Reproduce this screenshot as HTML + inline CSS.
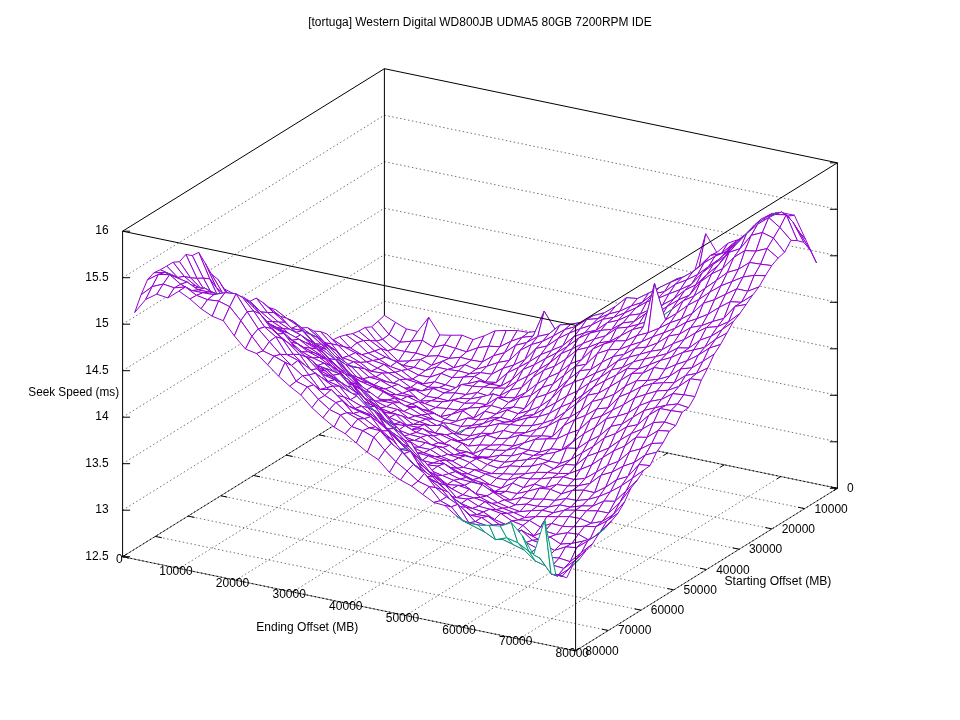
<!DOCTYPE html>
<html><head><meta charset="utf-8"><title>Seek Speed</title>
<style>
html,body{margin:0;padding:0;background:#fff;width:960px;height:720px;overflow:hidden}
svg{display:block}
text{font-family:"Liberation Sans",sans-serif;font-size:12px;fill:#000}
.g{stroke:#000;stroke-width:0.55;stroke-dasharray:1.5 2.5;fill:none}
.bb{stroke:#000;stroke-width:1;stroke-opacity:0.5;fill:none}
.bd{stroke:#000;stroke-width:1;stroke-dasharray:1.5 2.5;fill:none}
.b{stroke:#000;stroke-width:1;fill:none}
.p{fill:#fff;stroke:#9400d3;stroke-width:1;stroke-linejoin:round}
.t{fill:#fff;stroke:#009e73;stroke-width:1;stroke-linejoin:round}
</style></head><body>
<svg width="960" height="720" viewBox="0 0 960 720">
<rect width="960" height="720" fill="#fff"/>
<line x1="122.6" y1="510.2" x2="384.4" y2="347.7" class="g"/>
<line x1="384.4" y1="347.7" x2="837.4" y2="441.8" class="g"/>
<line x1="122.6" y1="463.7" x2="384.4" y2="301.2" class="g"/>
<line x1="384.4" y1="301.2" x2="837.4" y2="395.3" class="g"/>
<line x1="122.6" y1="417.2" x2="384.4" y2="254.7" class="g"/>
<line x1="384.4" y1="254.7" x2="837.4" y2="348.8" class="g"/>
<line x1="122.6" y1="370.7" x2="384.4" y2="208.2" class="g"/>
<line x1="384.4" y1="208.2" x2="837.4" y2="302.3" class="g"/>
<line x1="122.6" y1="324.2" x2="384.4" y2="161.7" class="g"/>
<line x1="384.4" y1="161.7" x2="837.4" y2="255.8" class="g"/>
<line x1="122.6" y1="277.7" x2="384.4" y2="115.2" class="g"/>
<line x1="384.4" y1="115.2" x2="837.4" y2="209.3" class="g"/>
<line x1="441.02" y1="405.96" x2="179.22" y2="568.46" class="g"/>
<line x1="351.67" y1="414.51" x2="804.67" y2="508.61" class="g"/>
<line x1="497.65" y1="417.72" x2="235.85" y2="580.22" class="g"/>
<line x1="318.95" y1="434.82" x2="771.95" y2="528.92" class="g"/>
<line x1="554.27" y1="429.49" x2="292.47" y2="591.99" class="g"/>
<line x1="286.22" y1="455.14" x2="739.22" y2="549.24" class="g"/>
<line x1="610.9" y1="441.25" x2="349.1" y2="603.75" class="g"/>
<line x1="253.5" y1="475.45" x2="706.5" y2="569.55" class="g"/>
<line x1="667.52" y1="453.01" x2="405.72" y2="615.51" class="g"/>
<line x1="220.77" y1="495.76" x2="673.77" y2="589.86" class="g"/>
<line x1="724.15" y1="464.77" x2="462.35" y2="627.27" class="g"/>
<line x1="188.05" y1="516.08" x2="641.05" y2="610.17" class="g"/>
<line x1="780.77" y1="476.54" x2="518.97" y2="639.04" class="g"/>
<line x1="155.32" y1="536.39" x2="608.32" y2="630.49" class="g"/>
<line x1="122.6" y1="556.7" x2="384.4" y2="394.2" class="bb"/>
<line x1="122.6" y1="556.7" x2="384.4" y2="394.2" class="bd"/>
<line x1="384.4" y1="394.2" x2="837.4" y2="488.3" class="bb"/>
<line x1="384.4" y1="394.2" x2="837.4" y2="488.3" class="bd"/>
<line x1="384.4" y1="394.2" x2="384.4" y2="68.7" class="b"/>
<line x1="384.4" y1="68.7" x2="122.6" y2="231.2" class="b"/>
<line x1="384.4" y1="68.7" x2="837.4" y2="162.8" class="b"/>
<line x1="384.4" y1="394.2" x2="380.64" y2="396.54" class="b"/>
<line x1="384.4" y1="394.2" x2="390.91" y2="395.55" class="b"/>
<line x1="441.02" y1="405.96" x2="437.26" y2="408.3" class="b"/>
<line x1="351.67" y1="414.51" x2="358.19" y2="415.87" class="b"/>
<line x1="497.65" y1="417.72" x2="493.89" y2="420.06" class="b"/>
<line x1="318.95" y1="434.82" x2="325.46" y2="436.18" class="b"/>
<line x1="554.27" y1="429.49" x2="550.51" y2="431.82" class="b"/>
<line x1="286.22" y1="455.14" x2="292.74" y2="456.49" class="b"/>
<line x1="610.9" y1="441.25" x2="607.14" y2="443.59" class="b"/>
<line x1="253.5" y1="475.45" x2="260.01" y2="476.8" class="b"/>
<line x1="667.52" y1="453.01" x2="663.76" y2="455.35" class="b"/>
<line x1="220.77" y1="495.76" x2="227.29" y2="497.12" class="b"/>
<line x1="724.15" y1="464.77" x2="720.39" y2="467.11" class="b"/>
<line x1="188.05" y1="516.08" x2="194.56" y2="517.43" class="b"/>
<line x1="780.77" y1="476.54" x2="777.01" y2="478.87" class="b"/>
<line x1="155.32" y1="536.39" x2="161.84" y2="537.74" class="b"/>
<line x1="837.4" y1="488.3" x2="833.64" y2="490.64" class="b"/>
<line x1="122.6" y1="556.7" x2="129.11" y2="558.05" class="b"/>
<line x1="837.4" y1="488.3" x2="837.4" y2="162.8" class="b"/>
<line x1="837.4" y1="488.3" x2="829.9" y2="488.3" class="b"/>
<line x1="837.4" y1="441.8" x2="829.9" y2="441.8" class="b"/>
<line x1="837.4" y1="395.3" x2="829.9" y2="395.3" class="b"/>
<line x1="837.4" y1="348.8" x2="829.9" y2="348.8" class="b"/>
<line x1="837.4" y1="302.3" x2="829.9" y2="302.3" class="b"/>
<line x1="837.4" y1="255.8" x2="829.9" y2="255.8" class="b"/>
<line x1="837.4" y1="209.3" x2="829.9" y2="209.3" class="b"/>
<line x1="837.4" y1="162.8" x2="829.9" y2="162.8" class="b"/>
<polygon points="384.4,315.39 395.48,322.39 389.08,334.46 378,321.29" class="p"/>
<polygon points="395.48,322.39 406.56,328.95 400.16,342.25 389.08,334.46" class="p"/>
<polygon points="378,321.29 389.08,334.46 382.67,339.44 371.59,326.87" class="p"/>
<polygon points="406.56,328.95 417.64,331.46 411.24,341.29 400.16,342.25" class="p"/>
<polygon points="389.08,334.46 400.16,342.25 393.75,349.15 382.67,339.44" class="p"/>
<polygon points="417.64,331.46 428.72,317.37 422.32,340.37 411.24,341.29" class="p"/>
<polygon points="371.59,326.87 382.67,339.44 376.27,341.07 365.19,327.45" class="p"/>
<polygon points="400.16,342.25 411.24,341.29 404.83,351.52 393.75,349.15" class="p"/>
<polygon points="428.72,317.37 439.8,334.95 433.4,347.3 422.32,340.37" class="p"/>
<polygon points="382.67,339.44 393.75,349.15 387.35,350.77 376.27,341.07" class="p"/>
<polygon points="411.24,341.29 422.32,340.37 415.92,353.14 404.83,351.52" class="p"/>
<polygon points="439.8,334.95 450.89,335.26 444.48,344.9 433.4,347.3" class="p"/>
<polygon points="365.19,327.45 376.27,341.07 369.87,340.43 358.78,331.17" class="p"/>
<polygon points="393.75,349.15 404.83,351.52 398.43,361.32 387.35,350.77" class="p"/>
<polygon points="422.32,340.37 433.4,347.3 427,356.32 415.92,353.14" class="p"/>
<polygon points="450.89,335.26 461.97,335.15 455.56,348.35 444.48,344.9" class="p"/>
<polygon points="376.27,341.07 387.35,350.77 380.95,348.67 369.87,340.43" class="p"/>
<polygon points="404.83,351.52 415.92,353.14 409.51,361.03 398.43,361.32" class="p"/>
<polygon points="433.4,347.3 444.48,344.9 438.08,355.72 427,356.32" class="p"/>
<polygon points="358.78,331.17 369.87,340.43 363.46,340.64 352.38,333.65" class="p"/>
<polygon points="461.97,335.15 473.05,339.59 466.64,351.84 455.56,348.35" class="p"/>
<polygon points="387.35,350.77 398.43,361.32 392.03,360.89 380.95,348.67" class="p"/>
<polygon points="415.92,353.14 427,356.32 420.59,359.57 409.51,361.03" class="p"/>
<polygon points="444.48,344.9 455.56,348.35 449.16,358.41 438.08,355.72" class="p"/>
<polygon points="369.87,340.43 380.95,348.67 374.54,351.13 363.46,340.64" class="p"/>
<polygon points="473.05,339.59 484.13,335.9 477.72,347.77 466.64,351.84" class="p"/>
<polygon points="398.43,361.32 409.51,361.03 403.11,365.47 392.03,360.89" class="p"/>
<polygon points="427,356.32 438.08,355.72 431.67,365.44 420.59,359.57" class="p"/>
<polygon points="352.38,333.65 363.46,340.64 357.06,342.79 345.98,334.93" class="p"/>
<polygon points="455.56,348.35 466.64,351.84 460.24,357.31 449.16,358.41" class="p"/>
<polygon points="380.95,348.67 392.03,360.89 385.62,357.16 374.54,351.13" class="p"/>
<polygon points="484.13,335.9 495.21,330.76 488.81,346.2 477.72,347.77" class="p"/>
<polygon points="409.51,361.03 420.59,359.57 414.19,367.42 403.11,365.47" class="p"/>
<polygon points="438.08,355.72 449.16,358.41 442.75,361.19 431.67,365.44" class="p"/>
<polygon points="363.46,340.64 374.54,351.13 368.14,353.09 357.06,342.79" class="p"/>
<polygon points="466.64,351.84 477.72,347.77 471.32,360.15 460.24,357.31" class="p"/>
<polygon points="392.03,360.89 403.11,365.47 396.7,362.04 385.62,357.16" class="t"/>
<polygon points="495.21,330.76 506.29,330.48 499.89,346.75 488.81,346.2" class="p"/>
<polygon points="420.59,359.57 431.67,365.44 425.27,370.58 414.19,367.42" class="p"/>
<polygon points="345.98,334.93 357.06,342.79 350.65,348.1 339.57,336.66" class="p"/>
<polygon points="449.16,358.41 460.24,357.31 453.84,367.72 442.75,361.19" class="p"/>
<polygon points="374.54,351.13 385.62,357.16 379.22,359.33 368.14,353.09" class="p"/>
<polygon points="477.72,347.77 488.81,346.2 482.4,361.91 471.32,360.15" class="p"/>
<polygon points="403.11,365.47 414.19,367.42 407.78,369.5 396.7,362.04" class="p"/>
<polygon points="506.29,330.48 517.37,330.57 510.97,341.27 499.89,346.75" class="p"/>
<polygon points="431.67,365.44 442.75,361.19 436.35,367 425.27,370.58" class="p"/>
<polygon points="357.06,342.79 368.14,353.09 361.73,354.76 350.65,348.1" class="p"/>
<polygon points="460.24,357.31 471.32,360.15 464.92,364.78 453.84,367.72" class="p"/>
<polygon points="385.62,357.16 396.7,362.04 390.3,366.61 379.22,359.33" class="p"/>
<polygon points="488.81,346.2 499.89,346.75 493.48,355.76 482.4,361.91" class="p"/>
<polygon points="414.19,367.42 425.27,370.58 418.87,375.28 407.78,369.5" class="p"/>
<polygon points="517.37,330.57 528.45,332.45 522.05,337.38 510.97,341.27" class="p"/>
<polygon points="339.57,336.66 350.65,348.1 344.25,346.94 333.17,339.75" class="p"/>
<polygon points="442.75,361.19 453.84,367.72 447.43,369.52 436.35,367" class="p"/>
<polygon points="368.14,353.09 379.22,359.33 372.82,360.55 361.73,354.76" class="p"/>
<polygon points="471.32,360.15 482.4,361.91 476,369.34 464.92,364.78" class="p"/>
<polygon points="396.7,362.04 407.78,369.5 401.38,370.49 390.3,366.61" class="p"/>
<polygon points="499.89,346.75 510.97,341.27 504.56,352.76 493.48,355.76" class="p"/>
<polygon points="425.27,370.58 436.35,367 429.95,377.18 418.87,375.28" class="p"/>
<polygon points="528.45,332.45 539.53,330.72 533.13,336.18 522.05,337.38" class="p"/>
<polygon points="350.65,348.1 361.73,354.76 355.33,352.75 344.25,346.94" class="p"/>
<polygon points="453.84,367.72 464.92,364.78 458.51,370.88 447.43,369.52" class="p"/>
<polygon points="379.22,359.33 390.3,366.61 383.9,364.39 372.82,360.55" class="p"/>
<polygon points="482.4,361.91 493.48,355.76 487.08,366.27 476,369.34" class="p"/>
<polygon points="407.78,369.5 418.87,375.28 412.46,379.13 401.38,370.49" class="p"/>
<polygon points="510.97,341.27 522.05,337.38 515.64,345.3 504.56,352.76" class="p"/>
<polygon points="333.17,339.75 344.25,346.94 337.85,345.22 326.76,333.93" class="p"/>
<polygon points="436.35,367 447.43,369.52 441.03,373.4 429.95,377.18" class="p"/>
<polygon points="539.53,330.72 550.61,329.48 544.21,311.22 533.13,336.18" class="t"/>
<polygon points="361.73,354.76 372.82,360.55 366.41,361.96 355.33,352.75" class="p"/>
<polygon points="464.92,364.78 476,369.34 469.59,373.83 458.51,370.88" class="p"/>
<polygon points="390.3,366.61 401.38,370.49 394.98,372.39 383.9,364.39" class="p"/>
<polygon points="493.48,355.76 504.56,352.76 498.16,362.46 487.08,366.27" class="p"/>
<polygon points="418.87,375.28 429.95,377.18 423.54,383.91 412.46,379.13" class="p"/>
<polygon points="522.05,337.38 533.13,336.18 526.73,342.55 515.64,345.3" class="p"/>
<polygon points="344.25,346.94 355.33,352.75 348.93,355.81 337.85,345.22" class="p"/>
<polygon points="447.43,369.52 458.51,370.88 452.11,377.75 441.03,373.4" class="p"/>
<polygon points="550.61,329.48 561.69,334.95 555.29,329.59 544.21,311.22" class="t"/>
<polygon points="372.82,360.55 383.9,364.39 377.49,368.29 366.41,361.96" class="p"/>
<polygon points="476,369.34 487.08,366.27 480.67,372.62 469.59,373.83" class="p"/>
<polygon points="401.38,370.49 412.46,379.13 406.06,379.31 394.98,372.39" class="p"/>
<polygon points="504.56,352.76 515.64,345.3 509.24,360.54 498.16,362.46" class="p"/>
<polygon points="326.76,333.93 337.85,345.22 331.44,343.88 320.36,331.47" class="p"/>
<polygon points="429.95,377.18 441.03,373.4 434.62,381.84 423.54,383.91" class="p"/>
<polygon points="533.13,336.18 544.21,311.22 537.81,336.47 526.73,342.55" class="p"/>
<polygon points="355.33,352.75 366.41,361.96 360.01,362.44 348.93,355.81" class="p"/>
<polygon points="458.51,370.88 469.59,373.83 463.19,377.13 452.11,377.75" class="p"/>
<polygon points="561.69,334.95 572.78,336.98 566.37,326.12 555.29,329.59" class="t"/>
<polygon points="383.9,364.39 394.98,372.39 388.57,373.03 377.49,368.29" class="p"/>
<polygon points="487.08,366.27 498.16,362.46 491.76,374.27 480.67,372.62" class="p"/>
<polygon points="412.46,379.13 423.54,383.91 417.14,382.76 406.06,379.31" class="p"/>
<polygon points="515.64,345.3 526.73,342.55 520.32,350.35 509.24,360.54" class="p"/>
<polygon points="337.85,345.22 348.93,355.81 342.52,357.75 331.44,343.88" class="p"/>
<polygon points="441.03,373.4 452.11,377.75 445.7,384.94 434.62,381.84" class="p"/>
<polygon points="544.21,311.22 555.29,329.59 548.89,334 537.81,336.47" class="p"/>
<polygon points="366.41,361.96 377.49,368.29 371.09,371.32 360.01,362.44" class="p"/>
<polygon points="469.59,373.83 480.67,372.62 474.27,376.44 463.19,377.13" class="p"/>
<polygon points="572.78,336.98 583.86,343.35 577.45,324.59 566.37,326.12" class="t"/>
<polygon points="394.98,372.39 406.06,379.31 399.65,379.52 388.57,373.03" class="p"/>
<polygon points="498.16,362.46 509.24,360.54 502.84,368.38 491.76,374.27" class="p"/>
<polygon points="320.36,331.47 331.44,343.88 325.04,342.89 313.96,331.1" class="p"/>
<polygon points="423.54,383.91 434.62,381.84 428.22,387.21 417.14,382.76" class="p"/>
<polygon points="526.73,342.55 537.81,336.47 531.4,344.58 520.32,350.35" class="p"/>
<polygon points="348.93,355.81 360.01,362.44 353.6,361.85 342.52,357.75" class="p"/>
<polygon points="452.11,377.75 463.19,377.13 456.79,387.99 445.7,384.94" class="p"/>
<polygon points="555.29,329.59 566.37,326.12 559.97,324.99 548.89,334" class="t"/>
<polygon points="377.49,368.29 388.57,373.03 382.17,373.08 371.09,371.32" class="p"/>
<polygon points="480.67,372.62 491.76,374.27 485.35,381.96 474.27,376.44" class="p"/>
<polygon points="583.86,343.35 594.94,345.89 588.53,328.42 577.45,324.59" class="t"/>
<polygon points="406.06,379.31 417.14,382.76 410.73,387.51 399.65,379.52" class="p"/>
<polygon points="509.24,360.54 520.32,350.35 513.92,365.01 502.84,368.38" class="p"/>
<polygon points="331.44,343.88 342.52,357.75 336.12,350.78 325.04,342.89" class="p"/>
<polygon points="434.62,381.84 445.7,384.94 439.3,387.47 428.22,387.21" class="p"/>
<polygon points="537.81,336.47 548.89,334 542.48,341.42 531.4,344.58" class="p"/>
<polygon points="360.01,362.44 371.09,371.32 364.68,368.86 353.6,361.85" class="p"/>
<polygon points="463.19,377.13 474.27,376.44 467.87,383.7 456.79,387.99" class="p"/>
<polygon points="566.37,326.12 577.45,324.59 571.05,324.15 559.97,324.99" class="t"/>
<polygon points="388.57,373.03 399.65,379.52 393.25,383.36 382.17,373.08" class="p"/>
<polygon points="491.76,374.27 502.84,368.38 496.43,382.49 485.35,381.96" class="p"/>
<polygon points="594.94,345.89 606.02,345 599.61,324.23 588.53,328.42" class="t"/>
<polygon points="313.96,331.1 325.04,342.89 318.63,337.59 307.55,327.68" class="p"/>
<polygon points="417.14,382.76 428.22,387.21 421.82,390.94 410.73,387.51" class="p"/>
<polygon points="520.32,350.35 531.4,344.58 525,359.57 513.92,365.01" class="p"/>
<polygon points="342.52,357.75 353.6,361.85 347.2,364.88 336.12,350.78" class="p"/>
<polygon points="445.7,384.94 456.79,387.99 450.38,390.6 439.3,387.47" class="p"/>
<polygon points="548.89,334 559.97,324.99 553.56,335.83 542.48,341.42" class="p"/>
<polygon points="371.09,371.32 382.17,373.08 375.77,376.98 364.68,368.86" class="p"/>
<polygon points="474.27,376.44 485.35,381.96 478.95,381 467.87,383.7" class="p"/>
<polygon points="577.45,324.59 588.53,328.42 582.13,322.17 571.05,324.15" class="t"/>
<polygon points="399.65,379.52 410.73,387.51 404.33,388.34 393.25,383.36" class="p"/>
<polygon points="502.84,368.38 513.92,365.01 507.51,372.78 496.43,382.49" class="p"/>
<polygon points="606.02,345 617.1,334.49 610.7,319.99 599.61,324.23" class="t"/>
<polygon points="325.04,342.89 336.12,350.78 329.71,347.4 318.63,337.59" class="p"/>
<polygon points="428.22,387.21 439.3,387.47 432.9,388.47 421.82,390.94" class="p"/>
<polygon points="531.4,344.58 542.48,341.42 536.08,348.51 525,359.57" class="p"/>
<polygon points="353.6,361.85 364.68,368.86 358.28,367.71 347.2,364.88" class="p"/>
<polygon points="456.79,387.99 467.87,383.7 461.46,384.51 450.38,390.6" class="t"/>
<polygon points="559.97,324.99 571.05,324.15 564.64,329.65 553.56,335.83" class="p"/>
<polygon points="382.17,373.08 393.25,383.36 386.85,381.81 375.77,376.98" class="p"/>
<polygon points="485.35,381.96 496.43,382.49 490.03,384.17 478.95,381" class="p"/>
<polygon points="588.53,328.42 599.61,324.23 593.21,315.68 582.13,322.17" class="t"/>
<polygon points="307.55,327.68 318.63,337.59 312.23,335.52 301.15,327.84" class="p"/>
<polygon points="410.73,387.51 421.82,390.94 415.41,390.11 404.33,388.34" class="p"/>
<polygon points="513.92,365.01 525,359.57 518.59,367.44 507.51,372.78" class="p"/>
<polygon points="617.1,334.49 628.18,328.89 621.78,312.92 610.7,319.99" class="t"/>
<polygon points="336.12,350.78 347.2,364.88 340.8,359.01 329.71,347.4" class="p"/>
<polygon points="439.3,387.47 450.38,390.6 443.98,393.01 432.9,388.47" class="p"/>
<polygon points="542.48,341.42 553.56,335.83 547.16,345.95 536.08,348.51" class="p"/>
<polygon points="364.68,368.86 375.77,376.98 369.36,377.28 358.28,367.71" class="p"/>
<polygon points="467.87,383.7 478.95,381 472.54,386.27 461.46,384.51" class="p"/>
<polygon points="571.05,324.15 582.13,322.17 575.73,326.53 564.64,329.65" class="p"/>
<polygon points="393.25,383.36 404.33,388.34 397.93,384.36 386.85,381.81" class="t"/>
<polygon points="496.43,382.49 507.51,372.78 501.11,385.96 490.03,384.17" class="p"/>
<polygon points="599.61,324.23 610.7,319.99 604.29,312.86 593.21,315.68" class="t"/>
<polygon points="318.63,337.59 329.71,347.4 323.31,343.14 312.23,335.52" class="p"/>
<polygon points="421.82,390.94 432.9,388.47 426.49,396.37 415.41,390.11" class="p"/>
<polygon points="525,359.57 536.08,348.51 529.68,361.52 518.59,367.44" class="p"/>
<polygon points="628.18,328.89 639.26,318.51 632.86,309.4 621.78,312.92" class="t"/>
<polygon points="347.2,364.88 358.28,367.71 351.88,366.96 340.8,359.01" class="t"/>
<polygon points="450.38,390.6 461.46,384.51 455.06,392.94 443.98,393.01" class="p"/>
<polygon points="553.56,335.83 564.64,329.65 558.24,338.49 547.16,345.95" class="p"/>
<polygon points="375.77,376.98 386.85,381.81 380.44,380.35 369.36,377.28" class="p"/>
<polygon points="478.95,381 490.03,384.17 483.62,387 472.54,386.27" class="p"/>
<polygon points="582.13,322.17 593.21,315.68 586.81,319.46 575.73,326.53" class="p"/>
<polygon points="301.15,327.84 312.23,335.52 305.83,331.56 294.74,326.5" class="p"/>
<polygon points="404.33,388.34 415.41,390.11 409.01,390.83 397.93,384.36" class="p"/>
<polygon points="507.51,372.78 518.59,367.44 512.19,379.72 501.11,385.96" class="p"/>
<polygon points="610.7,319.99 621.78,312.92 615.37,306.47 604.29,312.86" class="t"/>
<polygon points="329.71,347.4 340.8,359.01 334.39,356.23 323.31,343.14" class="p"/>
<polygon points="432.9,388.47 443.98,393.01 437.57,398.13 426.49,396.37" class="p"/>
<polygon points="536.08,348.51 547.16,345.95 540.76,354.67 529.68,361.52" class="p"/>
<polygon points="639.26,318.51 650.34,310.92 643.94,302.31 632.86,309.4" class="t"/>
<polygon points="358.28,367.71 369.36,377.28 362.96,378.87 351.88,366.96" class="p"/>
<polygon points="461.46,384.51 472.54,386.27 466.14,394.59 455.06,392.94" class="p"/>
<polygon points="564.64,329.65 575.73,326.53 569.32,333.11 558.24,338.49" class="p"/>
<polygon points="386.85,381.81 397.93,384.36 391.52,386.73 380.44,380.35" class="p"/>
<polygon points="490.03,384.17 501.11,385.96 494.71,388.1 483.62,387" class="p"/>
<polygon points="593.21,315.68 604.29,312.86 597.89,318.71 586.81,319.46" class="p"/>
<polygon points="312.23,335.52 323.31,343.14 316.91,337.31 305.83,331.56" class="t"/>
<polygon points="415.41,390.11 426.49,396.37 420.09,401.06 409.01,390.83" class="p"/>
<polygon points="518.59,367.44 529.68,361.52 523.27,369.41 512.19,379.72" class="p"/>
<polygon points="621.78,312.92 632.86,309.4 626.45,297.71 615.37,306.47" class="t"/>
<polygon points="340.8,359.01 351.88,366.96 345.47,364.43 334.39,356.23" class="p"/>
<polygon points="443.98,393.01 455.06,392.94 448.65,400.93 437.57,398.13" class="p"/>
<polygon points="547.16,345.95 558.24,338.49 551.84,350.35 540.76,354.67" class="p"/>
<polygon points="650.34,310.92 661.42,302.01 655.02,294.69 643.94,302.31" class="t"/>
<polygon points="369.36,377.28 380.44,380.35 374.04,384.95 362.96,378.87" class="p"/>
<polygon points="472.54,386.27 483.62,387 477.22,392.56 466.14,394.59" class="p"/>
<polygon points="575.73,326.53 586.81,319.46 580.4,328.71 569.32,333.11" class="p"/>
<polygon points="294.74,326.5 305.83,331.56 299.42,326.07 288.34,324.55" class="t"/>
<polygon points="397.93,384.36 409.01,390.83 402.6,393.37 391.52,386.73" class="p"/>
<polygon points="501.11,385.96 512.19,379.72 505.79,388.21 494.71,388.1" class="p"/>
<polygon points="604.29,312.86 615.37,306.47 608.97,313.99 597.89,318.71" class="p"/>
<polygon points="323.31,343.14 334.39,356.23 327.99,348.68 316.91,337.31" class="p"/>
<polygon points="426.49,396.37 437.57,398.13 431.17,400.77 420.09,401.06" class="p"/>
<polygon points="529.68,361.52 540.76,354.67 534.35,364.77 523.27,369.41" class="p"/>
<polygon points="632.86,309.4 643.94,302.31 637.53,298.55 626.45,297.71" class="t"/>
<polygon points="351.88,366.96 362.96,378.87 356.55,377 345.47,364.43" class="p"/>
<polygon points="455.06,392.94 466.14,394.59 459.74,398.34 448.65,400.93" class="p"/>
<polygon points="558.24,338.49 569.32,333.11 562.92,345.58 551.84,350.35" class="p"/>
<polygon points="661.42,302.01 672.5,296.36 666.1,286.02 655.02,294.69" class="t"/>
<polygon points="380.44,380.35 391.52,386.73 385.12,389.06 374.04,384.95" class="p"/>
<polygon points="483.62,387 494.71,388.1 488.3,395.98 477.22,392.56" class="p"/>
<polygon points="586.81,319.46 597.89,318.71 591.48,325.16 580.4,328.71" class="p"/>
<polygon points="305.83,331.56 316.91,337.31 310.5,334.52 299.42,326.07" class="t"/>
<polygon points="409.01,390.83 420.09,401.06 413.68,396.59 402.6,393.37" class="p"/>
<polygon points="512.19,379.72 523.27,369.41 516.87,381.57 505.79,388.21" class="p"/>
<polygon points="615.37,306.47 626.45,297.71 620.05,311.09 608.97,313.99" class="p"/>
<polygon points="334.39,356.23 345.47,364.43 339.07,360.22 327.99,348.68" class="t"/>
<polygon points="437.57,398.13 448.65,400.93 442.25,401.95 431.17,400.77" class="p"/>
<polygon points="540.76,354.67 551.84,350.35 545.43,358.67 534.35,364.77" class="p"/>
<polygon points="643.94,302.31 655.02,294.69 648.62,293.23 637.53,298.55" class="t"/>
<polygon points="362.96,378.87 374.04,384.95 367.63,382.58 356.55,377" class="p"/>
<polygon points="466.14,394.59 477.22,392.56 470.82,398.86 459.74,398.34" class="p"/>
<polygon points="569.32,333.11 580.4,328.71 574,336.64 562.92,345.58" class="p"/>
<polygon points="288.34,324.55 299.42,326.07 293.02,321.14 281.94,316.83" class="t"/>
<polygon points="672.5,296.36 683.59,282.56 677.18,278.68 666.1,286.02" class="t"/>
<polygon points="391.52,386.73 402.6,393.37 396.2,394.77 385.12,389.06" class="p"/>
<polygon points="494.71,388.1 505.79,388.21 499.38,395.95 488.3,395.98" class="p"/>
<polygon points="597.89,318.71 608.97,313.99 602.56,319.37 591.48,325.16" class="p"/>
<polygon points="316.91,337.31 327.99,348.68 321.58,344.36 310.5,334.52" class="p"/>
<polygon points="420.09,401.06 431.17,400.77 424.77,403.61 413.68,396.59" class="p"/>
<polygon points="523.27,369.41 534.35,364.77 527.95,376.01 516.87,381.57" class="p"/>
<polygon points="626.45,297.71 637.53,298.55 631.13,306.02 620.05,311.09" class="p"/>
<polygon points="345.47,364.43 356.55,377 350.15,374.54 339.07,360.22" class="p"/>
<polygon points="448.65,400.93 459.74,398.34 453.33,400.35 442.25,401.95" class="p"/>
<polygon points="551.84,350.35 562.92,345.58 556.51,352.89 545.43,358.67" class="p"/>
<polygon points="655.02,294.69 666.1,286.02 659.7,287.42 648.62,293.23" class="t"/>
<polygon points="374.04,384.95 385.12,389.06 378.72,388.38 367.63,382.58" class="p"/>
<polygon points="477.22,392.56 488.3,395.98 481.9,396.8 470.82,398.86" class="p"/>
<polygon points="580.4,328.71 591.48,325.16 585.08,332.58 574,336.64" class="p"/>
<polygon points="299.42,326.07 310.5,334.52 304.1,331.77 293.02,321.14" class="p"/>
<polygon points="683.59,282.56 694.67,270.93 688.26,275.73 677.18,278.68" class="t"/>
<polygon points="402.6,393.37 413.68,396.59 407.28,396.45 396.2,394.77" class="p"/>
<polygon points="505.79,388.21 516.87,381.57 510.46,390.05 499.38,395.95" class="p"/>
<polygon points="608.97,313.99 620.05,311.09 613.65,317.43 602.56,319.37" class="p"/>
<polygon points="327.99,348.68 339.07,360.22 332.66,358.95 321.58,344.36" class="p"/>
<polygon points="431.17,400.77 442.25,401.95 435.85,407.64 424.77,403.61" class="p"/>
<polygon points="534.35,364.77 545.43,358.67 539.03,369.48 527.95,376.01" class="p"/>
<polygon points="637.53,298.55 648.62,293.23 642.21,302.43 631.13,306.02" class="p"/>
<polygon points="356.55,377 367.63,382.58 361.23,381.8 350.15,374.54" class="p"/>
<polygon points="459.74,398.34 470.82,398.86 464.41,403.35 453.33,400.35" class="p"/>
<polygon points="562.92,345.58 574,336.64 567.59,346.35 556.51,352.89" class="p"/>
<polygon points="281.94,316.83 293.02,321.14 286.61,318.34 275.53,309.61" class="t"/>
<polygon points="666.1,286.02 677.18,278.68 670.78,282.15 659.7,287.42" class="t"/>
<polygon points="385.12,389.06 396.2,394.77 389.8,394.39 378.72,388.38" class="p"/>
<polygon points="488.3,395.98 499.38,395.95 492.98,393.94 481.9,396.8" class="t"/>
<polygon points="591.48,325.16 602.56,319.37 596.16,330.29 585.08,332.58" class="p"/>
<polygon points="310.5,334.52 321.58,344.36 315.18,343.77 304.1,331.77" class="p"/>
<polygon points="694.67,270.93 705.75,233.78 699.34,266.42 688.26,275.73" class="p"/>
<polygon points="413.68,396.59 424.77,403.61 418.36,401.85 407.28,396.45" class="p"/>
<polygon points="516.87,381.57 527.95,376.01 521.54,387.7 510.46,390.05" class="p"/>
<polygon points="620.05,311.09 631.13,306.02 624.73,312.99 613.65,317.43" class="p"/>
<polygon points="339.07,360.22 350.15,374.54 343.75,367.46 332.66,358.95" class="p"/>
<polygon points="442.25,401.95 453.33,400.35 446.93,408.56 435.85,407.64" class="p"/>
<polygon points="545.43,358.67 556.51,352.89 550.11,362.71 539.03,369.48" class="p"/>
<polygon points="648.62,293.23 659.7,287.42 653.29,293.74 642.21,302.43" class="p"/>
<polygon points="367.63,382.58 378.72,388.38 372.31,386.74 361.23,381.8" class="p"/>
<polygon points="470.82,398.86 481.9,396.8 475.49,403.02 464.41,403.35" class="p"/>
<polygon points="574,336.64 585.08,332.58 578.68,338.16 567.59,346.35" class="p"/>
<polygon points="293.02,321.14 304.1,331.77 297.69,325.74 286.61,318.34" class="p"/>
<polygon points="677.18,278.68 688.26,275.73 681.86,277.76 670.78,282.15" class="p"/>
<polygon points="396.2,394.77 407.28,396.45 400.88,399.8 389.8,394.39" class="p"/>
<polygon points="499.38,395.95 510.46,390.05 504.06,397.53 492.98,393.94" class="p"/>
<polygon points="602.56,319.37 613.65,317.43 607.24,322.74 596.16,330.29" class="p"/>
<polygon points="321.58,344.36 332.66,358.95 326.26,349.41 315.18,343.77" class="p"/>
<polygon points="705.75,233.78 716.83,252.43 710.42,255.49 699.34,266.42" class="p"/>
<polygon points="424.77,403.61 435.85,407.64 429.44,410.52 418.36,401.85" class="p"/>
<polygon points="527.95,376.01 539.03,369.48 532.63,377.58 521.54,387.7" class="p"/>
<polygon points="631.13,306.02 642.21,302.43 635.81,308.01 624.73,312.99" class="p"/>
<polygon points="350.15,374.54 361.23,381.8 354.83,378.86 343.75,367.46" class="p"/>
<polygon points="453.33,400.35 464.41,403.35 458.01,410.2 446.93,408.56" class="p"/>
<polygon points="556.51,352.89 567.59,346.35 561.19,353.7 550.11,362.71" class="p"/>
<polygon points="275.53,309.61 286.61,318.34 280.21,316.3 269.13,307.52" class="p"/>
<polygon points="659.7,287.42 670.78,282.15 664.37,291.78 653.29,293.74" class="p"/>
<polygon points="378.72,388.38 389.8,394.39 383.39,391.91 372.31,386.74" class="p"/>
<polygon points="481.9,396.8 492.98,393.94 486.57,404.65 475.49,403.02" class="p"/>
<polygon points="585.08,332.58 596.16,330.29 589.76,333.21 578.68,338.16" class="p"/>
<polygon points="304.1,331.77 315.18,343.77 308.78,338.6 297.69,325.74" class="p"/>
<polygon points="688.26,275.73 699.34,266.42 692.94,271.72 681.86,277.76" class="t"/>
<polygon points="407.28,396.45 418.36,401.85 411.96,403.86 400.88,399.8" class="p"/>
<polygon points="510.46,390.05 521.54,387.7 515.14,397.93 504.06,397.53" class="p"/>
<polygon points="613.65,317.43 624.73,312.99 618.32,320.25 607.24,322.74" class="p"/>
<polygon points="332.66,358.95 343.75,367.46 337.34,361.15 326.26,349.41" class="t"/>
<polygon points="716.83,252.43 727.91,243.18 721.5,253.46 710.42,255.49" class="p"/>
<polygon points="435.85,407.64 446.93,408.56 440.52,416.67 429.44,410.52" class="p"/>
<polygon points="539.03,369.48 550.11,362.71 543.71,370.33 532.63,377.58" class="p"/>
<polygon points="642.21,302.43 653.29,293.74 646.89,301.82 635.81,308.01" class="p"/>
<polygon points="361.23,381.8 372.31,386.74 365.91,390.31 354.83,378.86" class="p"/>
<polygon points="464.41,403.35 475.49,403.02 469.09,408.08 458.01,410.2" class="p"/>
<polygon points="567.59,346.35 578.68,338.16 572.27,348.85 561.19,353.7" class="p"/>
<polygon points="286.61,318.34 297.69,325.74 291.29,328.42 280.21,316.3" class="p"/>
<polygon points="670.78,282.15 681.86,277.76 675.45,284.25 664.37,291.78" class="p"/>
<polygon points="389.8,394.39 400.88,399.8 394.47,398.23 383.39,391.91" class="p"/>
<polygon points="492.98,393.94 504.06,397.53 497.66,397.64 486.57,404.65" class="p"/>
<polygon points="596.16,330.29 607.24,322.74 600.84,330.41 589.76,333.21" class="p"/>
<polygon points="315.18,343.77 326.26,349.41 319.86,347.9 308.78,338.6" class="p"/>
<polygon points="699.34,266.42 710.42,255.49 704.02,262.97 692.94,271.72" class="p"/>
<polygon points="418.36,401.85 429.44,410.52 423.04,409.72 411.96,403.86" class="p"/>
<polygon points="521.54,387.7 532.63,377.58 526.22,392.25 515.14,397.93" class="p"/>
<polygon points="624.73,312.99 635.81,308.01 629.4,315.32 618.32,320.25" class="p"/>
<polygon points="343.75,367.46 354.83,378.86 348.42,372.02 337.34,361.15" class="t"/>
<polygon points="727.91,243.18 738.99,239.35 732.59,244.1 721.5,253.46" class="p"/>
<polygon points="446.93,408.56 458.01,410.2 451.6,414.38 440.52,416.67" class="p"/>
<polygon points="550.11,362.71 561.19,353.7 554.79,366.13 543.71,370.33" class="p"/>
<polygon points="269.13,307.52 280.21,316.3 273.81,312.63 262.73,302.47" class="p"/>
<polygon points="653.29,293.74 664.37,291.78 657.97,298.41 646.89,301.82" class="p"/>
<polygon points="372.31,386.74 383.39,391.91 376.99,398.9 365.91,390.31" class="p"/>
<polygon points="475.49,403.02 486.57,404.65 480.17,407.41 469.09,408.08" class="p"/>
<polygon points="578.68,338.16 589.76,333.21 583.35,343.36 572.27,348.85" class="p"/>
<polygon points="297.69,325.74 308.78,338.6 302.37,330.69 291.29,328.42" class="p"/>
<polygon points="681.86,277.76 692.94,271.72 686.54,280.03 675.45,284.25" class="p"/>
<polygon points="400.88,399.8 411.96,403.86 405.55,406.41 394.47,398.23" class="p"/>
<polygon points="504.06,397.53 515.14,397.93 508.74,402.5 497.66,397.64" class="p"/>
<polygon points="607.24,322.74 618.32,320.25 611.92,329.33 600.84,330.41" class="p"/>
<polygon points="326.26,349.41 337.34,361.15 330.94,359.42 319.86,347.9" class="p"/>
<polygon points="710.42,255.49 721.5,253.46 715.1,256.22 704.02,262.97" class="p"/>
<polygon points="429.44,410.52 440.52,416.67 434.12,413.55 423.04,409.72" class="p"/>
<polygon points="532.63,377.58 543.71,370.33 537.3,383.77 526.22,392.25" class="p"/>
<polygon points="635.81,308.01 646.89,301.82 640.48,313.84 629.4,315.32" class="p"/>
<polygon points="354.83,378.86 365.91,390.31 359.5,384.68 348.42,372.02" class="p"/>
<polygon points="738.99,239.35 750.07,231.6 743.67,236.06 732.59,244.1" class="p"/>
<polygon points="458.01,410.2 469.09,408.08 462.69,410.77 451.6,414.38" class="p"/>
<polygon points="561.19,353.7 572.27,348.85 565.87,359.07 554.79,366.13" class="p"/>
<polygon points="280.21,316.3 291.29,328.42 284.89,322.27 273.81,312.63" class="p"/>
<polygon points="664.37,291.78 675.45,284.25 669.05,293.82 657.97,298.41" class="p"/>
<polygon points="383.39,391.91 394.47,398.23 388.07,400.09 376.99,398.9" class="p"/>
<polygon points="486.57,404.65 497.66,397.64 491.25,405.53 480.17,407.41" class="p"/>
<polygon points="589.76,333.21 600.84,330.41 594.43,339.03 583.35,343.36" class="p"/>
<polygon points="308.78,338.6 319.86,347.9 313.45,342.65 302.37,330.69" class="t"/>
<polygon points="692.94,271.72 704.02,262.97 697.62,274.63 686.54,280.03" class="p"/>
<polygon points="411.96,403.86 423.04,409.72 416.63,406.92 405.55,406.41" class="p"/>
<polygon points="515.14,397.93 526.22,392.25 519.82,397.78 508.74,402.5" class="p"/>
<polygon points="618.32,320.25 629.4,315.32 623,322.98 611.92,329.33" class="p"/>
<polygon points="337.34,361.15 348.42,372.02 342.02,366.02 330.94,359.42" class="p"/>
<polygon points="721.5,253.46 732.59,244.1 726.18,251.79 715.1,256.22" class="p"/>
<polygon points="440.52,416.67 451.6,414.38 445.2,419.28 434.12,413.55" class="p"/>
<polygon points="543.71,370.33 554.79,366.13 548.38,377.37 537.3,383.77" class="p"/>
<polygon points="262.73,302.47 273.81,312.63 267.4,312.5 256.32,298.11" class="p"/>
<polygon points="646.89,301.82 657.97,298.41 651.57,308.9 640.48,313.84" class="p"/>
<polygon points="365.91,390.31 376.99,398.9 370.58,392.74 359.5,384.68" class="t"/>
<polygon points="750.07,231.6 761.15,218.97 754.75,224.96 743.67,236.06" class="t"/>
<polygon points="469.09,408.08 480.17,407.41 473.77,418.13 462.69,410.77" class="p"/>
<polygon points="572.27,348.85 583.35,343.36 576.95,349.96 565.87,359.07" class="p"/>
<polygon points="291.29,328.42 302.37,330.69 295.97,332.37 284.89,322.27" class="p"/>
<polygon points="675.45,284.25 686.54,280.03 680.13,289.7 669.05,293.82" class="p"/>
<polygon points="394.47,398.23 405.55,406.41 399.15,402.54 388.07,400.09" class="p"/>
<polygon points="497.66,397.64 508.74,402.5 502.33,408.82 491.25,405.53" class="p"/>
<polygon points="600.84,330.41 611.92,329.33 605.51,335.83 594.43,339.03" class="p"/>
<polygon points="319.86,347.9 330.94,359.42 324.53,351.22 313.45,342.65" class="t"/>
<polygon points="704.02,262.97 715.1,256.22 708.7,266.49 697.62,274.63" class="p"/>
<polygon points="423.04,409.72 434.12,413.55 427.72,414.15 416.63,406.92" class="p"/>
<polygon points="526.22,392.25 537.3,383.77 530.9,395.54 519.82,397.78" class="p"/>
<polygon points="629.4,315.32 640.48,313.84 634.08,321.57 623,322.98" class="p"/>
<polygon points="348.42,372.02 359.5,384.68 353.1,378.93 342.02,366.02" class="p"/>
<polygon points="732.59,244.1 743.67,236.06 737.26,241.35 726.18,251.79" class="p"/>
<polygon points="451.6,414.38 462.69,410.77 456.28,421.36 445.2,419.28" class="p"/>
<polygon points="554.79,366.13 565.87,359.07 559.46,372.46 548.38,377.37" class="p"/>
<polygon points="273.81,312.63 284.89,322.27 278.48,322.12 267.4,312.5" class="p"/>
<polygon points="657.97,298.41 669.05,293.82 662.65,304.78 651.57,308.9" class="p"/>
<polygon points="376.99,398.9 388.07,400.09 381.67,401 370.58,392.74" class="p"/>
<polygon points="761.15,218.97 772.23,213.43 765.83,217.46 754.75,224.96" class="p"/>
<polygon points="480.17,407.41 491.25,405.53 484.85,411.29 473.77,418.13" class="p"/>
<polygon points="583.35,343.36 594.43,339.03 588.03,347.45 576.95,349.96" class="p"/>
<polygon points="302.37,330.69 313.45,342.65 307.05,339.39 295.97,332.37" class="p"/>
<polygon points="686.54,280.03 697.62,274.63 691.21,284.51 680.13,289.7" class="p"/>
<polygon points="405.55,406.41 416.63,406.92 410.23,408.17 399.15,402.54" class="p"/>
<polygon points="508.74,402.5 519.82,397.78 513.41,407.01 502.33,408.82" class="p"/>
<polygon points="611.92,329.33 623,322.98 616.6,328.31 605.51,335.83" class="p"/>
<polygon points="330.94,359.42 342.02,366.02 335.61,359.78 324.53,351.22" class="t"/>
<polygon points="715.1,256.22 726.18,251.79 719.78,258.74 708.7,266.49" class="p"/>
<polygon points="434.12,413.55 445.2,419.28 438.8,423.8 427.72,414.15" class="p"/>
<polygon points="537.3,383.77 548.38,377.37 541.98,387.46 530.9,395.54" class="p"/>
<polygon points="256.32,298.11 267.4,312.5 261,311.97 249.92,301.22" class="p"/>
<polygon points="640.48,313.84 651.57,308.9 645.16,313.96 634.08,321.57" class="p"/>
<polygon points="359.5,384.68 370.58,392.74 364.18,391.01 353.1,378.93" class="p"/>
<polygon points="743.67,236.06 754.75,224.96 748.34,232.41 737.26,241.35" class="p"/>
<polygon points="462.69,410.77 473.77,418.13 467.36,418.18 456.28,421.36" class="p"/>
<polygon points="565.87,359.07 576.95,349.96 570.54,363.72 559.46,372.46" class="p"/>
<polygon points="284.89,322.27 295.97,332.37 289.56,329.23 278.48,322.12" class="p"/>
<polygon points="669.05,293.82 680.13,289.7 673.73,299 662.65,304.78" class="p"/>
<polygon points="388.07,400.09 399.15,402.54 392.75,403.16 381.67,401" class="p"/>
<polygon points="772.23,213.43 783.31,213.04 776.91,212.49 765.83,217.46" class="p"/>
<polygon points="491.25,405.53 502.33,408.82 495.93,414.09 484.85,411.29" class="p"/>
<polygon points="594.43,339.03 605.51,335.83 599.11,343.01 588.03,347.45" class="p"/>
<polygon points="313.45,342.65 324.53,351.22 318.13,347.35 307.05,339.39" class="p"/>
<polygon points="697.62,274.63 708.7,266.49 702.29,272.81 691.21,284.51" class="p"/>
<polygon points="416.63,406.92 427.72,414.15 421.31,415.09 410.23,408.17" class="p"/>
<polygon points="519.82,397.78 530.9,395.54 524.49,408.72 513.41,407.01" class="p"/>
<polygon points="623,322.98 634.08,321.57 627.68,327.23 616.6,328.31" class="p"/>
<polygon points="342.02,366.02 353.1,378.93 346.7,373.93 335.61,359.78" class="p"/>
<polygon points="726.18,251.79 737.26,241.35 730.86,248.39 719.78,258.74" class="p"/>
<polygon points="445.2,419.28 456.28,421.36 449.88,423.59 438.8,423.8" class="p"/>
<polygon points="548.38,377.37 559.46,372.46 553.06,384.13 541.98,387.46" class="p"/>
<polygon points="267.4,312.5 278.48,322.12 272.08,321.44 261,311.97" class="p"/>
<polygon points="651.57,308.9 662.65,304.78 656.24,313.7 645.16,313.96" class="p"/>
<polygon points="370.58,392.74 381.67,401 375.26,401.05 364.18,391.01" class="p"/>
<polygon points="754.75,224.96 765.83,217.46 759.42,225.77 748.34,232.41" class="p"/>
<polygon points="473.77,418.13 484.85,411.29 478.44,420.15 467.36,418.18" class="p"/>
<polygon points="576.95,349.96 588.03,347.45 581.63,359.7 570.54,363.72" class="p"/>
<polygon points="295.97,332.37 307.05,339.39 300.64,334.9 289.56,329.23" class="t"/>
<polygon points="680.13,289.7 691.21,284.51 684.81,290.36 673.73,299" class="p"/>
<polygon points="399.15,402.54 410.23,408.17 403.83,411.52 392.75,403.16" class="p"/>
<polygon points="783.31,213.04 794.39,215.24 787.99,216.18 776.91,212.49" class="p"/>
<polygon points="502.33,408.82 513.41,407.01 507.01,409.97 495.93,414.09" class="p"/>
<polygon points="605.51,335.83 616.6,328.31 610.19,341.18 599.11,343.01" class="p"/>
<polygon points="324.53,351.22 335.61,359.78 329.21,358.63 318.13,347.35" class="p"/>
<polygon points="708.7,266.49 719.78,258.74 713.37,264.34 702.29,272.81" class="p"/>
<polygon points="427.72,414.15 438.8,423.8 432.39,419.14 421.31,415.09" class="p"/>
<polygon points="530.9,395.54 541.98,387.46 535.58,397.77 524.49,408.72" class="p"/>
<polygon points="249.92,301.22 261,311.97 254.59,306.32 243.51,297.37" class="p"/>
<polygon points="634.08,321.57 645.16,313.96 638.76,324.29 627.68,327.23" class="p"/>
<polygon points="353.1,378.93 364.18,391.01 357.78,387.98 346.7,373.93" class="p"/>
<polygon points="737.26,241.35 748.34,232.41 741.94,238.75 730.86,248.39" class="p"/>
<polygon points="456.28,421.36 467.36,418.18 460.96,426.51 449.88,423.59" class="p"/>
<polygon points="559.46,372.46 570.54,363.72 564.14,375.13 553.06,384.13" class="p"/>
<polygon points="278.48,322.12 289.56,329.23 283.16,328.7 272.08,321.44" class="p"/>
<polygon points="662.65,304.78 673.73,299 667.32,306.43 656.24,313.7" class="p"/>
<polygon points="381.67,401 392.75,403.16 386.34,406.61 375.26,401.05" class="p"/>
<polygon points="765.83,217.46 776.91,212.49 770.51,215.72 759.42,225.77" class="p"/>
<polygon points="484.85,411.29 495.93,414.09 489.52,418.2 478.44,420.15" class="p"/>
<polygon points="588.03,347.45 599.11,343.01 592.71,349.11 581.63,359.7" class="p"/>
<polygon points="307.05,339.39 318.13,347.35 311.73,344.66 300.64,334.9" class="p"/>
<polygon points="691.21,284.51 702.29,272.81 695.89,284.82 684.81,290.36" class="p"/>
<polygon points="410.23,408.17 421.31,415.09 414.91,416.03 403.83,411.52" class="p"/>
<polygon points="794.39,215.24 805.48,239.19 799.07,231.91 787.99,216.18" class="p"/>
<polygon points="513.41,407.01 524.49,408.72 518.09,413.73 507.01,409.97" class="p"/>
<polygon points="616.6,328.31 627.68,327.23 621.27,335.51 610.19,341.18" class="p"/>
<polygon points="335.61,359.78 346.7,373.93 340.29,368.98 329.21,358.63" class="p"/>
<polygon points="719.78,258.74 730.86,248.39 724.45,256.85 713.37,264.34" class="p"/>
<polygon points="438.8,423.8 449.88,423.59 443.47,422.85 432.39,419.14" class="t"/>
<polygon points="541.98,387.46 553.06,384.13 546.66,394.31 535.58,397.77" class="p"/>
<polygon points="261,311.97 272.08,321.44 265.68,321.89 254.59,306.32" class="p"/>
<polygon points="645.16,313.96 656.24,313.7 649.84,320.54 638.76,324.29" class="p"/>
<polygon points="364.18,391.01 375.26,401.05 368.86,396.94 357.78,387.98" class="p"/>
<polygon points="748.34,232.41 759.42,225.77 753.02,228.87 741.94,238.75" class="t"/>
<polygon points="467.36,418.18 478.44,420.15 472.04,425.5 460.96,426.51" class="p"/>
<polygon points="570.54,363.72 581.63,359.7 575.22,366.31 564.14,375.13" class="p"/>
<polygon points="289.56,329.23 300.64,334.9 294.24,338.3 283.16,328.7" class="p"/>
<polygon points="673.73,299 684.81,290.36 678.4,299.91 667.32,306.43" class="p"/>
<polygon points="392.75,403.16 403.83,411.52 397.42,409.47 386.34,406.61" class="p"/>
<polygon points="776.91,212.49 787.99,216.18 781.59,212.09 770.51,215.72" class="t"/>
<polygon points="495.93,414.09 507.01,409.97 500.61,417.42 489.52,418.2" class="p"/>
<polygon points="599.11,343.01 610.19,341.18 603.79,344.05 592.71,349.11" class="p"/>
<polygon points="318.13,347.35 329.21,358.63 322.81,352.45 311.73,344.66" class="p"/>
<polygon points="702.29,272.81 713.37,264.34 706.97,274.62 695.89,284.82" class="p"/>
<polygon points="421.31,415.09 432.39,419.14 425.99,419.11 414.91,416.03" class="p"/>
<polygon points="805.48,239.19 816.56,262.98 810.15,250.02 799.07,231.91" class="p"/>
<polygon points="524.49,408.72 535.58,397.77 529.17,410.72 518.09,413.73" class="p"/>
<polygon points="243.51,297.37 254.59,306.32 248.19,306.78 237.11,295.1" class="p"/>
<polygon points="627.68,327.23 638.76,324.29 632.35,329.66 621.27,335.51" class="p"/>
<polygon points="346.7,373.93 357.78,387.98 351.37,376.72 340.29,368.98" class="t"/>
<polygon points="730.86,248.39 741.94,238.75 735.54,245.12 724.45,256.85" class="p"/>
<polygon points="449.88,423.59 460.96,426.51 454.55,434.52 443.47,422.85" class="p"/>
<polygon points="553.06,384.13 564.14,375.13 557.74,388.97 546.66,394.31" class="p"/>
<polygon points="272.08,321.44 283.16,328.7 276.76,327.49 265.68,321.89" class="p"/>
<polygon points="656.24,313.7 667.32,306.43 660.92,316.99 649.84,320.54" class="p"/>
<polygon points="375.26,401.05 386.34,406.61 379.94,408.19 368.86,396.94" class="p"/>
<polygon points="759.42,225.77 770.51,215.72 764.1,222.08 753.02,228.87" class="t"/>
<polygon points="478.44,420.15 489.52,418.2 483.12,423.62 472.04,425.5" class="p"/>
<polygon points="581.63,359.7 592.71,349.11 586.3,364.2 575.22,366.31" class="p"/>
<polygon points="300.64,334.9 311.73,344.66 305.32,342.5 294.24,338.3" class="p"/>
<polygon points="684.81,290.36 695.89,284.82 689.49,295.2 678.4,299.91" class="p"/>
<polygon points="403.83,411.52 414.91,416.03 408.5,418.31 397.42,409.47" class="p"/>
<polygon points="787.99,216.18 799.07,231.91 792.67,221.8 781.59,212.09" class="p"/>
<polygon points="507.01,409.97 518.09,413.73 511.69,420.56 500.61,417.42" class="p"/>
<polygon points="610.19,341.18 621.27,335.51 614.87,340.98 603.79,344.05" class="p"/>
<polygon points="329.21,358.63 340.29,368.98 333.89,363.98 322.81,352.45" class="p"/>
<polygon points="713.37,264.34 724.45,256.85 718.05,265.47 706.97,274.62" class="p"/>
<polygon points="432.39,419.14 443.47,422.85 437.07,425.9 425.99,419.11" class="p"/>
<polygon points="535.58,397.77 546.66,394.31 540.25,406.37 529.17,410.72" class="p"/>
<polygon points="254.59,306.32 265.68,321.89 259.27,317.87 248.19,306.78" class="p"/>
<polygon points="638.76,324.29 649.84,320.54 643.43,326.74 632.35,329.66" class="p"/>
<polygon points="357.78,387.98 368.86,396.94 362.45,391.42 351.37,376.72" class="t"/>
<polygon points="741.94,238.75 753.02,228.87 746.62,233.66 735.54,245.12" class="t"/>
<polygon points="460.96,426.51 472.04,425.5 465.64,428.97 454.55,434.52" class="p"/>
<polygon points="564.14,375.13 575.22,366.31 568.82,379.18 557.74,388.97" class="p"/>
<polygon points="283.16,328.7 294.24,338.3 287.84,333.06 276.76,327.49" class="p"/>
<polygon points="667.32,306.43 678.4,299.91 672,309.28 660.92,316.99" class="p"/>
<polygon points="386.34,406.61 397.42,409.47 391.02,412.65 379.94,408.19" class="p"/>
<polygon points="770.51,215.72 781.59,212.09 775.18,214.45 764.1,222.08" class="p"/>
<polygon points="489.52,418.2 500.61,417.42 494.2,419.48 483.12,423.62" class="p"/>
<polygon points="592.71,349.11 603.79,344.05 597.38,353.5 586.3,364.2" class="p"/>
<polygon points="311.73,344.66 322.81,352.45 316.4,348.83 305.32,342.5" class="p"/>
<polygon points="695.89,284.82 706.97,274.62 700.57,281.77 689.49,295.2" class="p"/>
<polygon points="414.91,416.03 425.99,419.11 419.59,421.85 408.5,418.31" class="p"/>
<polygon points="799.07,231.91 810.15,250.02 803.75,242.3 792.67,221.8" class="p"/>
<polygon points="518.09,413.73 529.17,410.72 522.77,416.27 511.69,420.56" class="p"/>
<polygon points="237.11,295.1 248.19,306.78 241.79,303.36 230.71,292.17" class="p"/>
<polygon points="621.27,335.51 632.35,329.66 625.95,340.77 614.87,340.98" class="p"/>
<polygon points="340.29,368.98 351.37,376.72 344.97,374.06 333.89,363.98" class="p"/>
<polygon points="724.45,256.85 735.54,245.12 729.13,252.39 718.05,265.47" class="p"/>
<polygon points="443.47,422.85 454.55,434.52 448.15,428.43 437.07,425.9" class="p"/>
<polygon points="546.66,394.31 557.74,388.97 551.33,398.77 540.25,406.37" class="p"/>
<polygon points="265.68,321.89 276.76,327.49 270.35,325.6 259.27,317.87" class="p"/>
<polygon points="649.84,320.54 660.92,316.99 654.52,283.7 643.43,326.74" class="t"/>
<polygon points="368.86,396.94 379.94,408.19 373.53,400.59 362.45,391.42" class="t"/>
<polygon points="753.02,228.87 764.1,222.08 757.7,224.23 746.62,233.66" class="t"/>
<polygon points="472.04,425.5 483.12,423.62 476.72,427.09 465.64,428.97" class="p"/>
<polygon points="575.22,366.31 586.3,364.2 579.9,370.81 568.82,379.18" class="p"/>
<polygon points="294.24,338.3 305.32,342.5 298.92,339.17 287.84,333.06" class="t"/>
<polygon points="678.4,299.91 689.49,295.2 683.08,300.9 672,309.28" class="p"/>
<polygon points="397.42,409.47 408.5,418.31 402.1,416.1 391.02,412.65" class="p"/>
<polygon points="781.59,212.09 792.67,221.8 786.26,214.91 775.18,214.45" class="p"/>
<polygon points="500.61,417.42 511.69,420.56 505.28,422.36 494.2,419.48" class="p"/>
<polygon points="603.79,344.05 614.87,340.98 608.46,349.87 597.38,353.5" class="p"/>
<polygon points="322.81,352.45 333.89,363.98 327.48,359.3 316.4,348.83" class="p"/>
<polygon points="706.97,274.62 718.05,265.47 711.65,273.96 700.57,281.77" class="p"/>
<polygon points="425.99,419.11 437.07,425.9 430.67,425.63 419.59,421.85" class="p"/>
<polygon points="529.17,410.72 540.25,406.37 533.85,414.57 522.77,416.27" class="p"/>
<polygon points="248.19,306.78 259.27,317.87 252.87,319.76 241.79,303.36" class="p"/>
<polygon points="632.35,329.66 643.43,326.74 637.03,335.64 625.95,340.77" class="p"/>
<polygon points="351.37,376.72 362.45,391.42 356.05,384.38 344.97,374.06" class="p"/>
<polygon points="735.54,245.12 746.62,233.66 740.21,248.65 729.13,252.39" class="p"/>
<polygon points="454.55,434.52 465.64,428.97 459.23,434.28 448.15,428.43" class="t"/>
<polygon points="557.74,388.97 568.82,379.18 562.41,387.76 551.33,398.77" class="p"/>
<polygon points="276.76,327.49 287.84,333.06 281.43,330.9 270.35,325.6" class="p"/>
<polygon points="660.92,316.99 672,309.28 665.6,319.9 654.52,283.7" class="t"/>
<polygon points="379.94,408.19 391.02,412.65 384.62,412.39 373.53,400.59" class="p"/>
<polygon points="764.1,222.08 775.18,214.45 768.78,217.57 757.7,224.23" class="t"/>
<polygon points="483.12,423.62 494.2,419.48 487.8,426.19 476.72,427.09" class="p"/>
<polygon points="586.3,364.2 597.38,353.5 590.98,369.4 579.9,370.81" class="p"/>
<polygon points="305.32,342.5 316.4,348.83 310,348.04 298.92,339.17" class="p"/>
<polygon points="689.49,295.2 700.57,281.77 694.16,296.01 683.08,300.9" class="p"/>
<polygon points="408.5,418.31 419.59,421.85 413.18,424.5 402.1,416.1" class="p"/>
<polygon points="792.67,221.8 803.75,242.3 797.34,240.67 786.26,214.91" class="p"/>
<polygon points="511.69,420.56 522.77,416.27 516.36,420.94 505.28,422.36" class="p"/>
<polygon points="230.71,292.17 241.79,303.36 235.38,302.01 224.3,288.96" class="p"/>
<polygon points="614.87,340.98 625.95,340.77 619.55,349.38 608.46,349.87" class="p"/>
<polygon points="333.89,363.98 344.97,374.06 338.56,370.49 327.48,359.3" class="p"/>
<polygon points="718.05,265.47 729.13,252.39 722.73,268.63 711.65,273.96" class="p"/>
<polygon points="437.07,425.9 448.15,428.43 441.75,425.27 430.67,425.63" class="t"/>
<polygon points="540.25,406.37 551.33,398.77 544.93,408.59 533.85,414.57" class="p"/>
<polygon points="259.27,317.87 270.35,325.6 263.95,325.5 252.87,319.76" class="p"/>
<polygon points="643.43,326.74 654.52,283.7 648.11,332.78 637.03,335.64" class="p"/>
<polygon points="362.45,391.42 373.53,400.59 367.13,398.38 356.05,384.38" class="p"/>
<polygon points="746.62,233.66 757.7,224.23 751.29,235.39 740.21,248.65" class="p"/>
<polygon points="465.64,428.97 476.72,427.09 470.31,435.84 459.23,434.28" class="p"/>
<polygon points="568.82,379.18 579.9,370.81 573.49,382.34 562.41,387.76" class="p"/>
<polygon points="287.84,333.06 298.92,339.17 292.51,340.31 281.43,330.9" class="p"/>
<polygon points="672,309.28 683.08,300.9 676.68,313.33 665.6,319.9" class="p"/>
<polygon points="391.02,412.65 402.1,416.1 395.7,414.37 384.62,412.39" class="p"/>
<polygon points="775.18,214.45 786.26,214.91 779.86,227.51 768.78,217.57" class="p"/>
<polygon points="494.2,419.48 505.28,422.36 498.88,423.7 487.8,426.19" class="p"/>
<polygon points="597.38,353.5 608.46,349.87 602.06,362.28 590.98,369.4" class="p"/>
<polygon points="316.4,348.83 327.48,359.3 321.08,355.32 310,348.04" class="p"/>
<polygon points="700.57,281.77 711.65,273.96 705.24,288.14 694.16,296.01" class="p"/>
<polygon points="419.59,421.85 430.67,425.63 424.26,424.66 413.18,424.5" class="p"/>
<polygon points="522.77,416.27 533.85,414.57 527.44,417.91 516.36,420.94" class="p"/>
<polygon points="241.79,303.36 252.87,319.76 246.46,314.77 235.38,302.01" class="p"/>
<polygon points="625.95,340.77 637.03,335.64 630.63,345.19 619.55,349.38" class="p"/>
<polygon points="344.97,374.06 356.05,384.38 349.65,382.01 338.56,370.49" class="p"/>
<polygon points="729.13,252.39 740.21,248.65 733.81,257.46 722.73,268.63" class="p"/>
<polygon points="448.15,428.43 459.23,434.28 452.83,433.29 441.75,425.27" class="p"/>
<polygon points="551.33,398.77 562.41,387.76 556.01,402.53 544.93,408.59" class="p"/>
<polygon points="270.35,325.6 281.43,330.9 275.03,330.04 263.95,325.5" class="p"/>
<polygon points="654.52,283.7 665.6,319.9 659.19,328.19 648.11,332.78" class="p"/>
<polygon points="373.53,400.59 384.62,412.39 378.21,406.63 367.13,398.38" class="p"/>
<polygon points="757.7,224.23 768.78,217.57 762.37,232.57 751.29,235.39" class="p"/>
<polygon points="476.72,427.09 487.8,426.19 481.39,433.34 470.31,435.84" class="p"/>
<polygon points="579.9,370.81 590.98,369.4 584.58,378.38 573.49,382.34" class="p"/>
<polygon points="298.92,339.17 310,348.04 303.59,347.44 292.51,340.31" class="p"/>
<polygon points="683.08,300.9 694.16,296.01 687.76,305.38 676.68,313.33" class="p"/>
<polygon points="402.1,416.1 413.18,424.5 406.78,425.26 395.7,414.37" class="p"/>
<polygon points="786.26,214.91 797.34,240.67 790.94,240.29 779.86,227.51" class="p"/>
<polygon points="505.28,422.36 516.36,420.94 509.96,424.55 498.88,423.7" class="p"/>
<polygon points="224.3,288.96 235.38,302.01 228.98,297.7 217.9,279.3" class="p"/>
<polygon points="608.46,349.87 619.55,349.38 613.14,356.63 602.06,362.28" class="p"/>
<polygon points="327.48,359.3 338.56,370.49 332.16,366.42 321.08,355.32" class="p"/>
<polygon points="711.65,273.96 722.73,268.63 716.32,280.57 705.24,288.14" class="p"/>
<polygon points="430.67,425.63 441.75,425.27 435.34,433.1 424.26,424.66" class="p"/>
<polygon points="533.85,414.57 544.93,408.59 538.53,416.67 527.44,417.91" class="p"/>
<polygon points="252.87,319.76 263.95,325.5 257.54,317.84 246.46,314.77" class="t"/>
<polygon points="637.03,335.64 648.11,332.78 641.71,341.75 630.63,345.19" class="p"/>
<polygon points="356.05,384.38 367.13,398.38 360.73,389.57 349.65,382.01" class="p"/>
<polygon points="740.21,248.65 751.29,235.39 744.89,250.58 733.81,257.46" class="p"/>
<polygon points="459.23,434.28 470.31,435.84 463.91,440.35 452.83,433.29" class="p"/>
<polygon points="562.41,387.76 573.49,382.34 567.09,395.89 556.01,402.53" class="p"/>
<polygon points="281.43,330.9 292.51,340.31 286.11,336.9 275.03,330.04" class="p"/>
<polygon points="665.6,319.9 676.68,313.33 670.27,322.69 659.19,328.19" class="p"/>
<polygon points="384.62,412.39 395.7,414.37 389.29,417.46 378.21,406.63" class="p"/>
<polygon points="768.78,217.57 779.86,227.51 773.46,238.08 762.37,232.57" class="p"/>
<polygon points="487.8,426.19 498.88,423.7 492.47,433.49 481.39,433.34" class="p"/>
<polygon points="590.98,369.4 602.06,362.28 595.66,372.97 584.58,378.38" class="p"/>
<polygon points="310,348.04 321.08,355.32 314.68,353.14 303.59,347.44" class="p"/>
<polygon points="694.16,296.01 705.24,288.14 698.84,299.53 687.76,305.38" class="p"/>
<polygon points="413.18,424.5 424.26,424.66 417.86,427.36 406.78,425.26" class="p"/>
<polygon points="516.36,420.94 527.44,417.91 521.04,425.85 509.96,424.55" class="p"/>
<polygon points="235.38,302.01 246.46,314.77 240.06,308.27 228.98,297.7" class="p"/>
<polygon points="619.55,349.38 630.63,345.19 624.22,354.29 613.14,356.63" class="p"/>
<polygon points="338.56,370.49 349.65,382.01 343.24,375.69 332.16,366.42" class="p"/>
<polygon points="722.73,268.63 733.81,257.46 727.4,272.47 716.32,280.57" class="p"/>
<polygon points="441.75,425.27 452.83,433.29 446.42,434.81 435.34,433.1" class="p"/>
<polygon points="544.93,408.59 556.01,402.53 549.61,413.34 538.53,416.67" class="p"/>
<polygon points="263.95,325.5 275.03,330.04 268.63,328.51 257.54,317.84" class="t"/>
<polygon points="648.11,332.78 659.19,328.19 652.79,336.78 641.71,341.75" class="p"/>
<polygon points="367.13,398.38 378.21,406.63 371.81,402.46 360.73,389.57" class="t"/>
<polygon points="751.29,235.39 762.37,232.57 755.97,251.13 744.89,250.58" class="p"/>
<polygon points="470.31,435.84 481.39,433.34 474.99,438.17 463.91,440.35" class="p"/>
<polygon points="573.49,382.34 584.58,378.38 578.17,390.52 567.09,395.89" class="p"/>
<polygon points="292.51,340.31 303.59,347.44 297.19,343.66 286.11,336.9" class="p"/>
<polygon points="676.68,313.33 687.76,305.38 681.35,318.92 670.27,322.69" class="p"/>
<polygon points="395.7,414.37 406.78,425.26 400.37,422.29 389.29,417.46" class="p"/>
<polygon points="779.86,227.51 790.94,240.29 784.54,252.27 773.46,238.08" class="p"/>
<polygon points="498.88,423.7 509.96,424.55 503.56,430.52 492.47,433.49" class="p"/>
<polygon points="217.9,279.3 228.98,297.7 222.57,292.99 211.49,274.13" class="p"/>
<polygon points="602.06,362.28 613.14,356.63 606.74,368.59 595.66,372.97" class="p"/>
<polygon points="321.08,355.32 332.16,366.42 325.76,359.25 314.68,353.14" class="p"/>
<polygon points="705.24,288.14 716.32,280.57 709.92,292.12 698.84,299.53" class="p"/>
<polygon points="424.26,424.66 435.34,433.1 428.94,431.62 417.86,427.36" class="p"/>
<polygon points="527.44,417.91 538.53,416.67 532.12,425.64 521.04,425.85" class="p"/>
<polygon points="246.46,314.77 257.54,317.84 251.14,323.14 240.06,308.27" class="p"/>
<polygon points="630.63,345.19 641.71,341.75 635.3,348.32 624.22,354.29" class="p"/>
<polygon points="349.65,382.01 360.73,389.57 354.32,386.2 343.24,375.69" class="p"/>
<polygon points="733.81,257.46 744.89,250.58 738.49,269.26 727.4,272.47" class="p"/>
<polygon points="452.83,433.29 463.91,440.35 457.5,440.64 446.42,434.81" class="p"/>
<polygon points="556.01,402.53 567.09,395.89 560.69,407.12 549.61,413.34" class="p"/>
<polygon points="275.03,330.04 286.11,336.9 279.71,333.51 268.63,328.51" class="p"/>
<polygon points="659.19,328.19 670.27,322.69 663.87,332.79 652.79,336.78" class="p"/>
<polygon points="378.21,406.63 389.29,417.46 382.89,414.2 371.81,402.46" class="p"/>
<polygon points="762.37,232.57 773.46,238.08 767.05,248.6 755.97,251.13" class="p"/>
<polygon points="481.39,433.34 492.47,433.49 486.07,435.03 474.99,438.17" class="p"/>
<polygon points="584.58,378.38 595.66,372.97 589.25,383.01 578.17,390.52" class="p"/>
<polygon points="303.59,347.44 314.68,353.14 308.27,351.83 297.19,343.66" class="p"/>
<polygon points="687.76,305.38 698.84,299.53 692.44,313.31 681.35,318.92" class="p"/>
<polygon points="406.78,425.26 417.86,427.36 411.45,429.65 400.37,422.29" class="p"/>
<polygon points="509.96,424.55 521.04,425.85 514.64,433.2 503.56,430.52" class="p"/>
<polygon points="228.98,297.7 240.06,308.27 233.66,309.26 222.57,292.99" class="p"/>
<polygon points="613.14,356.63 624.22,354.29 617.82,360.86 606.74,368.59" class="p"/>
<polygon points="332.16,366.42 343.24,375.69 336.84,374.04 325.76,359.25" class="p"/>
<polygon points="716.32,280.57 727.4,272.47 721,285.82 709.92,292.12" class="p"/>
<polygon points="435.34,433.1 446.42,434.81 440.02,434.43 428.94,431.62" class="p"/>
<polygon points="538.53,416.67 549.61,413.34 543.2,423.26 532.12,425.64" class="p"/>
<polygon points="257.54,317.84 268.63,328.51 262.22,327.67 251.14,323.14" class="p"/>
<polygon points="641.71,341.75 652.79,336.78 646.38,347.15 635.3,348.32" class="p"/>
<polygon points="360.73,389.57 371.81,402.46 365.4,398.56 354.32,386.2" class="p"/>
<polygon points="744.89,250.58 755.97,251.13 749.57,262.52 738.49,269.26" class="p"/>
<polygon points="463.91,440.35 474.99,438.17 468.59,446.1 457.5,440.64" class="p"/>
<polygon points="567.09,395.89 578.17,390.52 571.77,402.46 560.69,407.12" class="p"/>
<polygon points="286.11,336.9 297.19,343.66 290.79,342.18 279.71,333.51" class="p"/>
<polygon points="670.27,322.69 681.35,318.92 674.95,328.35 663.87,332.79" class="p"/>
<polygon points="389.29,417.46 400.37,422.29 393.97,424.16 382.89,414.2" class="p"/>
<polygon points="773.46,238.08 784.54,252.27 778.13,258.06 767.05,248.6" class="p"/>
<polygon points="492.47,433.49 503.56,430.52 497.15,438.64 486.07,435.03" class="p"/>
<polygon points="211.49,274.13 222.57,292.99 216.17,287.38 205.09,262.94" class="p"/>
<polygon points="595.66,372.97 606.74,368.59 600.33,377.33 589.25,383.01" class="p"/>
<polygon points="314.68,353.14 325.76,359.25 319.35,357.51 308.27,351.83" class="p"/>
<polygon points="698.84,299.53 709.92,292.12 703.52,303.29 692.44,313.31" class="p"/>
<polygon points="417.86,427.36 428.94,431.62 422.54,428.59 411.45,429.65" class="p"/>
<polygon points="521.04,425.85 532.12,425.64 525.72,432.64 514.64,433.2" class="p"/>
<polygon points="240.06,308.27 251.14,323.14 244.74,316.72 233.66,309.26" class="p"/>
<polygon points="624.22,354.29 635.3,348.32 628.9,357.24 617.82,360.86" class="p"/>
<polygon points="343.24,375.69 354.32,386.2 347.92,379.28 336.84,374.04" class="p"/>
<polygon points="727.4,272.47 738.49,269.26 732.08,281.51 721,285.82" class="p"/>
<polygon points="446.42,434.81 457.5,440.64 451.1,439.61 440.02,434.43" class="p"/>
<polygon points="549.61,413.34 560.69,407.12 554.28,419.3 543.2,423.26" class="p"/>
<polygon points="268.63,328.51 279.71,333.51 273.3,333.13 262.22,327.67" class="p"/>
<polygon points="652.79,336.78 663.87,332.79 657.47,343.02 646.38,347.15" class="p"/>
<polygon points="371.81,402.46 382.89,414.2 376.48,407.11 365.4,398.56" class="p"/>
<polygon points="755.97,251.13 767.05,248.6 760.65,264.21 749.57,262.52" class="p"/>
<polygon points="474.99,438.17 486.07,435.03 479.67,445.01 468.59,446.1" class="p"/>
<polygon points="578.17,390.52 589.25,383.01 582.85,394.95 571.77,402.46" class="p"/>
<polygon points="297.19,343.66 308.27,351.83 301.87,351.87 290.79,342.18" class="p"/>
<polygon points="681.35,318.92 692.44,313.31 686.03,322.4 674.95,328.35" class="p"/>
<polygon points="400.37,422.29 411.45,429.65 405.05,425.65 393.97,424.16" class="p"/>
<polygon points="503.56,430.52 514.64,433.2 508.23,438.29 497.15,438.64" class="p"/>
<polygon points="222.57,292.99 233.66,309.26 227.25,303.82 216.17,287.38" class="p"/>
<polygon points="606.74,368.59 617.82,360.86 611.41,369.93 600.33,377.33" class="p"/>
<polygon points="325.76,359.25 336.84,374.04 330.43,365.8 319.35,357.51" class="p"/>
<polygon points="709.92,292.12 721,285.82 714.6,299.68 703.52,303.29" class="p"/>
<polygon points="428.94,431.62 440.02,434.43 433.62,436.03 422.54,428.59" class="p"/>
<polygon points="532.12,425.64 543.2,423.26 536.8,429.37 525.72,432.64" class="p"/>
<polygon points="251.14,323.14 262.22,327.67 255.82,324.52 244.74,316.72" class="t"/>
<polygon points="635.3,348.32 646.38,347.15 639.98,354.29 628.9,357.24" class="p"/>
<polygon points="354.32,386.2 365.4,398.56 359,392.83 347.92,379.28" class="p"/>
<polygon points="738.49,269.26 749.57,262.52 743.16,277.02 732.08,281.51" class="p"/>
<polygon points="457.5,440.64 468.59,446.1 462.18,443.22 451.1,439.61" class="p"/>
<polygon points="560.69,407.12 571.77,402.46 565.36,411.88 554.28,419.3" class="p"/>
<polygon points="279.71,333.51 290.79,342.18 284.38,343.09 273.3,333.13" class="p"/>
<polygon points="663.87,332.79 674.95,328.35 668.55,336.1 657.47,343.02" class="p"/>
<polygon points="382.89,414.2 393.97,424.16 387.57,416.07 376.48,407.11" class="t"/>
<polygon points="767.05,248.6 778.13,258.06 771.73,265.6 760.65,264.21" class="p"/>
<polygon points="486.07,435.03 497.15,438.64 490.75,445.25 479.67,445.01" class="p"/>
<polygon points="205.09,262.94 216.17,287.38 209.77,278.88 198.69,252.39" class="p"/>
<polygon points="589.25,383.01 600.33,377.33 593.93,386.75 582.85,394.95" class="p"/>
<polygon points="308.27,351.83 319.35,357.51 312.95,358.03 301.87,351.87" class="p"/>
<polygon points="692.44,313.31 703.52,303.29 697.11,318.66 686.03,322.4" class="p"/>
<polygon points="411.45,429.65 422.54,428.59 416.13,432.44 405.05,425.65" class="p"/>
<polygon points="514.64,433.2 525.72,432.64 519.31,435.19 508.23,438.29" class="p"/>
<polygon points="233.66,309.26 244.74,316.72 238.33,315.05 227.25,303.82" class="p"/>
<polygon points="617.82,360.86 628.9,357.24 622.5,367.48 611.41,369.93" class="p"/>
<polygon points="336.84,374.04 347.92,379.28 341.51,377.19 330.43,365.8" class="t"/>
<polygon points="721,285.82 732.08,281.51 725.68,294.28 714.6,299.68" class="p"/>
<polygon points="440.02,434.43 451.1,439.61 444.7,443.51 433.62,436.03" class="p"/>
<polygon points="543.2,423.26 554.28,419.3 547.88,426.02 536.8,429.37" class="p"/>
<polygon points="262.22,327.67 273.3,333.13 266.9,333.13 255.82,324.52" class="p"/>
<polygon points="646.38,347.15 657.47,343.02 651.06,351.24 639.98,354.29" class="p"/>
<polygon points="365.4,398.56 376.48,407.11 370.08,404.16 359,392.83" class="p"/>
<polygon points="749.57,262.52 760.65,264.21 754.24,275.4 743.16,277.02" class="p"/>
<polygon points="468.59,446.1 479.67,445.01 473.26,453.82 462.18,443.22" class="p"/>
<polygon points="571.77,402.46 582.85,394.95 576.45,403.59 565.36,411.88" class="p"/>
<polygon points="290.79,342.18 301.87,351.87 295.46,351.09 284.38,343.09" class="p"/>
<polygon points="674.95,328.35 686.03,322.4 679.63,334.11 668.55,336.1" class="p"/>
<polygon points="393.97,424.16 405.05,425.65 398.65,430.13 387.57,416.07" class="p"/>
<polygon points="497.15,438.64 508.23,438.29 501.83,444.77 490.75,445.25" class="p"/>
<polygon points="216.17,287.38 227.25,303.82 220.85,302.55 209.77,278.88" class="p"/>
<polygon points="600.33,377.33 611.41,369.93 605.01,380.68 593.93,386.75" class="p"/>
<polygon points="319.35,357.51 330.43,365.8 324.03,363.18 312.95,358.03" class="p"/>
<polygon points="703.52,303.29 714.6,299.68 708.19,314.15 697.11,318.66" class="p"/>
<polygon points="422.54,428.59 433.62,436.03 427.21,435.28 416.13,432.44" class="p"/>
<polygon points="525.72,432.64 536.8,429.37 530.39,436.36 519.31,435.19" class="p"/>
<polygon points="244.74,316.72 255.82,324.52 249.41,318.29 238.33,315.05" class="t"/>
<polygon points="628.9,357.24 639.98,354.29 633.58,361.85 622.5,367.48" class="p"/>
<polygon points="347.92,379.28 359,392.83 352.6,385.27 341.51,377.19" class="p"/>
<polygon points="732.08,281.51 743.16,277.02 736.76,288.86 725.68,294.28" class="p"/>
<polygon points="451.1,439.61 462.18,443.22 455.78,449.51 444.7,443.51" class="p"/>
<polygon points="554.28,419.3 565.36,411.88 558.96,420.02 547.88,426.02" class="p"/>
<polygon points="273.3,333.13 284.38,343.09 277.98,338.31 266.9,333.13" class="p"/>
<polygon points="657.47,343.02 668.55,336.1 662.14,349.6 651.06,351.24" class="p"/>
<polygon points="376.48,407.11 387.57,416.07 381.16,410.39 370.08,404.16" class="p"/>
<polygon points="760.65,264.21 771.73,265.6 765.32,275.78 754.24,275.4" class="p"/>
<polygon points="479.67,445.01 490.75,445.25 484.34,448.88 473.26,453.82" class="p"/>
<polygon points="198.69,252.39 209.77,278.88 203.36,278.17 192.28,255.59" class="p"/>
<polygon points="582.85,394.95 593.93,386.75 587.53,395.25 576.45,403.59" class="p"/>
<polygon points="301.87,351.87 312.95,358.03 306.54,356.82 295.46,351.09" class="p"/>
<polygon points="686.03,322.4 697.11,318.66 690.71,327.52 679.63,334.11" class="p"/>
<polygon points="405.05,425.65 416.13,432.44 409.73,434.51 398.65,430.13" class="p"/>
<polygon points="508.23,438.29 519.31,435.19 512.91,446.2 501.83,444.77" class="p"/>
<polygon points="227.25,303.82 238.33,315.05 231.93,310.53 220.85,302.55" class="p"/>
<polygon points="611.41,369.93 622.5,367.48 616.09,375.09 605.01,380.68" class="p"/>
<polygon points="330.43,365.8 341.51,377.19 335.11,372.59 324.03,363.18" class="p"/>
<polygon points="714.6,299.68 725.68,294.28 719.27,307.36 708.19,314.15" class="p"/>
<polygon points="433.62,436.03 444.7,443.51 438.29,442.92 427.21,435.28" class="p"/>
<polygon points="536.8,429.37 547.88,426.02 541.48,435.86 530.39,436.36" class="p"/>
<polygon points="255.82,324.52 266.9,333.13 260.49,328.29 249.41,318.29" class="t"/>
<polygon points="639.98,354.29 651.06,351.24 644.66,359.04 633.58,361.85" class="p"/>
<polygon points="359,392.83 370.08,404.16 363.68,401.51 352.6,385.27" class="p"/>
<polygon points="743.16,277.02 754.24,275.4 747.84,291.24 736.76,288.86" class="p"/>
<polygon points="462.18,443.22 473.26,453.82 466.86,451.92 455.78,449.51" class="p"/>
<polygon points="565.36,411.88 576.45,403.59 570.04,417.15 558.96,420.02" class="p"/>
<polygon points="284.38,343.09 295.46,351.09 289.06,352.1 277.98,338.31" class="p"/>
<polygon points="668.55,336.1 679.63,334.11 673.22,343.6 662.14,349.6" class="p"/>
<polygon points="387.57,416.07 398.65,430.13 392.24,423.53 381.16,410.39" class="p"/>
<polygon points="490.75,445.25 501.83,444.77 495.42,450.25 484.34,448.88" class="p"/>
<polygon points="209.77,278.88 220.85,302.55 214.44,298.85 203.36,278.17" class="p"/>
<polygon points="593.93,386.75 605.01,380.68 598.61,393.14 587.53,395.25" class="p"/>
<polygon points="312.95,358.03 324.03,363.18 317.63,365.6 306.54,356.82" class="p"/>
<polygon points="697.11,318.66 708.19,314.15 701.79,325.57 690.71,327.52" class="p"/>
<polygon points="416.13,432.44 427.21,435.28 420.81,437.41 409.73,434.51" class="p"/>
<polygon points="519.31,435.19 530.39,436.36 523.99,442.99 512.91,446.2" class="p"/>
<polygon points="238.33,315.05 249.41,318.29 243.01,319.34 231.93,310.53" class="p"/>
<polygon points="622.5,367.48 633.58,361.85 627.17,368.59 616.09,375.09" class="p"/>
<polygon points="341.51,377.19 352.6,385.27 346.19,382.74 335.11,372.59" class="p"/>
<polygon points="725.68,294.28 736.76,288.86 730.36,301.74 719.27,307.36" class="p"/>
<polygon points="444.7,443.51 455.78,449.51 449.37,445.3 438.29,442.92" class="p"/>
<polygon points="547.88,426.02 558.96,420.02 552.56,436.62 541.48,435.86" class="p"/>
<polygon points="266.9,333.13 277.98,338.31 271.58,337.05 260.49,328.29" class="p"/>
<polygon points="651.06,351.24 662.14,349.6 655.74,356.6 644.66,359.04" class="p"/>
<polygon points="370.08,404.16 381.16,410.39 374.76,406.59 363.68,401.51" class="p"/>
<polygon points="754.24,275.4 765.32,275.78 758.92,286.96 747.84,291.24" class="p"/>
<polygon points="473.26,453.82 484.34,448.88 477.94,456.69 466.86,451.92" class="p"/>
<polygon points="192.28,255.59 203.36,278.17 196.96,278.35 185.88,254.49" class="p"/>
<polygon points="576.45,403.59 587.53,395.25 581.12,410.39 570.04,417.15" class="p"/>
<polygon points="295.46,351.09 306.54,356.82 300.14,355.33 289.06,352.1" class="p"/>
<polygon points="679.63,334.11 690.71,327.52 684.3,339.52 673.22,343.6" class="p"/>
<polygon points="398.65,430.13 409.73,434.51 403.32,436.45 392.24,423.53" class="p"/>
<polygon points="501.83,444.77 512.91,446.2 506.51,450.36 495.42,450.25" class="p"/>
<polygon points="220.85,302.55 231.93,310.53 225.52,305.74 214.44,298.85" class="p"/>
<polygon points="605.01,380.68 616.09,375.09 609.69,386.89 598.61,393.14" class="p"/>
<polygon points="324.03,363.18 335.11,372.59 328.71,369.54 317.63,365.6" class="p"/>
<polygon points="708.19,314.15 719.27,307.36 712.87,321.5 701.79,325.57" class="p"/>
<polygon points="427.21,435.28 438.29,442.92 431.89,445.22 420.81,437.41" class="p"/>
<polygon points="530.39,436.36 541.48,435.86 535.07,439.36 523.99,442.99" class="p"/>
<polygon points="249.41,318.29 260.49,328.29 254.09,325.3 243.01,319.34" class="p"/>
<polygon points="633.58,361.85 644.66,359.04 638.25,368.99 627.17,368.59" class="p"/>
<polygon points="352.6,385.27 363.68,401.51 357.27,393.49 346.19,382.74" class="p"/>
<polygon points="736.76,288.86 747.84,291.24 741.44,302.31 730.36,301.74" class="p"/>
<polygon points="455.78,449.51 466.86,451.92 460.45,453.24 449.37,445.3" class="p"/>
<polygon points="558.96,420.02 570.04,417.15 563.64,425.67 552.56,436.62" class="p"/>
<polygon points="277.98,338.31 289.06,352.1 282.66,343.97 271.58,337.05" class="p"/>
<polygon points="662.14,349.6 673.22,343.6 666.82,353.7 655.74,356.6" class="p"/>
<polygon points="381.16,410.39 392.24,423.53 385.84,420.3 374.76,406.59" class="p"/>
<polygon points="484.34,448.88 495.42,450.25 489.02,457.3 477.94,456.69" class="p"/>
<polygon points="203.36,278.17 214.44,298.85 208.04,295.73 196.96,278.35" class="p"/>
<polygon points="587.53,395.25 598.61,393.14 592.2,401.61 581.12,410.39" class="p"/>
<polygon points="306.54,356.82 317.63,365.6 311.22,363.39 300.14,355.33" class="p"/>
<polygon points="690.71,327.52 701.79,325.57 695.39,332.96 684.3,339.52" class="p"/>
<polygon points="409.73,434.51 420.81,437.41 414.4,440.52 403.32,436.45" class="p"/>
<polygon points="512.91,446.2 523.99,442.99 517.59,447.58 506.51,450.36" class="p"/>
<polygon points="231.93,310.53 243.01,319.34 236.61,315.04 225.52,305.74" class="p"/>
<polygon points="616.09,375.09 627.17,368.59 620.77,380.31 609.69,386.89" class="p"/>
<polygon points="335.11,372.59 346.19,382.74 339.79,374.02 328.71,369.54" class="t"/>
<polygon points="719.27,307.36 730.36,301.74 723.95,318.36 712.87,321.5" class="p"/>
<polygon points="438.29,442.92 449.37,445.3 442.97,447.48 431.89,445.22" class="p"/>
<polygon points="541.48,435.86 552.56,436.62 546.15,438.96 535.07,439.36" class="p"/>
<polygon points="260.49,328.29 271.58,337.05 265.17,329.75 254.09,325.3" class="t"/>
<polygon points="644.66,359.04 655.74,356.6 649.33,364.78 638.25,368.99" class="p"/>
<polygon points="363.68,401.51 374.76,406.59 368.35,406.45 357.27,393.49" class="p"/>
<polygon points="747.84,291.24 758.92,286.96 752.52,295.27 741.44,302.31" class="p"/>
<polygon points="466.86,451.92 477.94,456.69 471.54,457.53 460.45,453.24" class="p"/>
<polygon points="185.88,254.49 196.96,278.35 190.55,277.83 179.47,261.71" class="p"/>
<polygon points="570.04,417.15 581.12,410.39 574.72,419.66 563.64,425.67" class="p"/>
<polygon points="289.06,352.1 300.14,355.33 293.74,351.87 282.66,343.97" class="t"/>
<polygon points="673.22,343.6 684.3,339.52 677.9,347.92 666.82,353.7" class="p"/>
<polygon points="392.24,423.53 403.32,436.45 396.92,427.26 385.84,420.3" class="t"/>
<polygon points="495.42,450.25 506.51,450.36 500.1,455.23 489.02,457.3" class="p"/>
<polygon points="214.44,298.85 225.52,305.74 219.12,298.07 208.04,295.73" class="t"/>
<polygon points="598.61,393.14 609.69,386.89 603.28,398.7 592.2,401.61" class="p"/>
<polygon points="317.63,365.6 328.71,369.54 322.3,368.57 311.22,363.39" class="p"/>
<polygon points="701.79,325.57 712.87,321.5 706.47,327.51 695.39,332.96" class="p"/>
<polygon points="420.81,437.41 431.89,445.22 425.49,442.7 414.4,440.52" class="p"/>
<polygon points="523.99,442.99 535.07,439.36 528.67,450.19 517.59,447.58" class="p"/>
<polygon points="243.01,319.34 254.09,325.3 247.69,320.21 236.61,315.04" class="t"/>
<polygon points="627.17,368.59 638.25,368.99 631.85,373.39 620.77,380.31" class="p"/>
<polygon points="346.19,382.74 357.27,393.49 350.87,386.56 339.79,374.02" class="t"/>
<polygon points="730.36,301.74 741.44,302.31 735.03,306.44 723.95,318.36" class="p"/>
<polygon points="449.37,445.3 460.45,453.24 454.05,454.81 442.97,447.48" class="p"/>
<polygon points="552.56,436.62 563.64,425.67 557.23,438.78 546.15,438.96" class="p"/>
<polygon points="271.58,337.05 282.66,343.97 276.25,337.77 265.17,329.75" class="t"/>
<polygon points="655.74,356.6 666.82,353.7 660.42,360.44 649.33,364.78" class="p"/>
<polygon points="374.76,406.59 385.84,420.3 379.43,413.97 368.35,406.45" class="p"/>
<polygon points="477.94,456.69 489.02,457.3 482.62,457.79 471.54,457.53" class="p"/>
<polygon points="196.96,278.35 208.04,295.73 201.64,289.15 190.55,277.83" class="p"/>
<polygon points="581.12,410.39 592.2,401.61 585.8,415.37 574.72,419.66" class="p"/>
<polygon points="300.14,355.33 311.22,363.39 304.82,357.54 293.74,351.87" class="t"/>
<polygon points="684.3,339.52 695.39,332.96 688.98,348.06 677.9,347.92" class="p"/>
<polygon points="403.32,436.45 414.4,440.52 408,440.25 396.92,427.26" class="p"/>
<polygon points="506.51,450.36 517.59,447.58 511.18,456.04 500.1,455.23" class="p"/>
<polygon points="225.52,305.74 236.61,315.04 230.2,305.97 219.12,298.07" class="t"/>
<polygon points="609.69,386.89 620.77,380.31 614.36,394.24 603.28,398.7" class="p"/>
<polygon points="328.71,369.54 339.79,374.02 333.38,375.21 322.3,368.57" class="p"/>
<polygon points="712.87,321.5 723.95,318.36 717.55,326.66 706.47,327.51" class="p"/>
<polygon points="431.89,445.22 442.97,447.48 436.57,446.8 425.49,442.7" class="p"/>
<polygon points="535.07,439.36 546.15,438.96 539.75,452.24 528.67,450.19" class="p"/>
<polygon points="254.09,325.3 265.17,329.75 258.77,325.46 247.69,320.21" class="t"/>
<polygon points="638.25,368.99 649.33,364.78 642.93,373.15 631.85,373.39" class="p"/>
<polygon points="357.27,393.49 368.35,406.45 361.95,400.89 350.87,386.56" class="p"/>
<polygon points="741.44,302.31 752.52,295.27 746.11,304.49 735.03,306.44" class="p"/>
<polygon points="460.45,453.24 471.54,457.53 465.13,455.85 454.05,454.81" class="p"/>
<polygon points="179.47,261.71 190.55,277.83 184.15,276.38 173.07,262.25" class="p"/>
<polygon points="563.64,425.67 574.72,419.66 568.31,433.57 557.23,438.78" class="p"/>
<polygon points="282.66,343.97 293.74,351.87 287.33,347.14 276.25,337.77" class="t"/>
<polygon points="666.82,353.7 677.9,347.92 671.5,357.36 660.42,360.44" class="p"/>
<polygon points="385.84,420.3 396.92,427.26 390.52,428.34 379.43,413.97" class="p"/>
<polygon points="489.02,457.3 500.1,455.23 493.7,460.44 482.62,457.79" class="p"/>
<polygon points="208.04,295.73 219.12,298.07 212.72,295.13 201.64,289.15" class="t"/>
<polygon points="592.2,401.61 603.28,398.7 596.88,408.87 585.8,415.37" class="p"/>
<polygon points="311.22,363.39 322.3,368.57 315.9,366.08 304.82,357.54" class="t"/>
<polygon points="695.39,332.96 706.47,327.51 700.06,340.11 688.98,348.06" class="p"/>
<polygon points="414.4,440.52 425.49,442.7 419.08,447.29 408,440.25" class="p"/>
<polygon points="517.59,447.58 528.67,450.19 522.26,453.31 511.18,456.04" class="p"/>
<polygon points="236.61,315.04 247.69,320.21 241.28,312.94 230.2,305.97" class="t"/>
<polygon points="620.77,380.31 631.85,373.39 625.45,386.14 614.36,394.24" class="p"/>
<polygon points="339.79,374.02 350.87,386.56 344.46,386.12 333.38,375.21" class="p"/>
<polygon points="723.95,318.36 735.03,306.44 728.63,321.78 717.55,326.66" class="p"/>
<polygon points="442.97,447.48 454.05,454.81 447.65,454.39 436.57,446.8" class="p"/>
<polygon points="546.15,438.96 557.23,438.78 550.83,448.96 539.75,452.24" class="p"/>
<polygon points="265.17,329.75 276.25,337.77 269.85,330.81 258.77,325.46" class="t"/>
<polygon points="649.33,364.78 660.42,360.44 654.01,367.57 642.93,373.15" class="p"/>
<polygon points="368.35,406.45 379.43,413.97 373.03,410.59 361.95,400.89" class="p"/>
<polygon points="471.54,457.53 482.62,457.79 476.21,458.85 465.13,455.85" class="p"/>
<polygon points="190.55,277.83 201.64,289.15 195.23,285.56 184.15,276.38" class="p"/>
<polygon points="574.72,419.66 585.8,415.37 579.4,429.78 568.31,433.57" class="p"/>
<polygon points="293.74,351.87 304.82,357.54 298.41,353.68 287.33,347.14" class="t"/>
<polygon points="677.9,347.92 688.98,348.06 682.58,352.57 671.5,357.36" class="p"/>
<polygon points="396.92,427.26 408,440.25 401.6,434.3 390.52,428.34" class="p"/>
<polygon points="500.1,455.23 511.18,456.04 504.78,462.26 493.7,460.44" class="p"/>
<polygon points="219.12,298.07 230.2,305.97 223.8,299.55 212.72,295.13" class="t"/>
<polygon points="603.28,398.7 614.36,394.24 607.96,407.93 596.88,408.87" class="p"/>
<polygon points="322.3,368.57 333.38,375.21 326.98,369.67 315.9,366.08" class="t"/>
<polygon points="706.47,327.51 717.55,326.66 711.14,336.24 700.06,340.11" class="p"/>
<polygon points="425.49,442.7 436.57,446.8 430.16,449.52 419.08,447.29" class="p"/>
<polygon points="528.67,450.19 539.75,452.24 533.34,455.61 522.26,453.31" class="p"/>
<polygon points="247.69,320.21 258.77,325.46 252.36,317.91 241.28,312.94" class="t"/>
<polygon points="631.85,373.39 642.93,373.15 636.53,380.79 625.45,386.14" class="p"/>
<polygon points="350.87,386.56 361.95,400.89 355.55,395.76 344.46,386.12" class="p"/>
<polygon points="735.03,306.44 746.11,304.49 739.71,313.69 728.63,321.78" class="p"/>
<polygon points="454.05,454.81 465.13,455.85 458.73,457.92 447.65,454.39" class="p"/>
<polygon points="173.07,262.25 184.15,276.38 177.75,277.54 166.67,266.06" class="p"/>
<polygon points="557.23,438.78 568.31,433.57 561.91,449.71 550.83,448.96" class="p"/>
<polygon points="276.25,337.77 287.33,347.14 280.93,337.85 269.85,330.81" class="t"/>
<polygon points="660.42,360.44 671.5,357.36 665.09,369.31 654.01,367.57" class="p"/>
<polygon points="379.43,413.97 390.52,428.34 384.11,420.24 373.03,410.59" class="p"/>
<polygon points="482.62,457.79 493.7,460.44 487.29,464.58 476.21,458.85" class="p"/>
<polygon points="201.64,289.15 212.72,295.13 206.31,294.25 195.23,285.56" class="p"/>
<polygon points="585.8,415.37 596.88,408.87 590.48,419.47 579.4,429.78" class="p"/>
<polygon points="304.82,357.54 315.9,366.08 309.49,360.48 298.41,353.68" class="t"/>
<polygon points="688.98,348.06 700.06,340.11 693.66,349.93 682.58,352.57" class="p"/>
<polygon points="408,440.25 419.08,447.29 412.68,447.11 401.6,434.3" class="p"/>
<polygon points="511.18,456.04 522.26,453.31 515.86,460.94 504.78,462.26" class="p"/>
<polygon points="230.2,305.97 241.28,312.94 234.88,307.17 223.8,299.55" class="t"/>
<polygon points="614.36,394.24 625.45,386.14 619.04,396.98 607.96,407.93" class="p"/>
<polygon points="333.38,375.21 344.46,386.12 338.06,380.37 326.98,369.67" class="p"/>
<polygon points="717.55,326.66 728.63,321.78 722.22,329.55 711.14,336.24" class="p"/>
<polygon points="436.57,446.8 447.65,454.39 441.24,456.49 430.16,449.52" class="p"/>
<polygon points="539.75,452.24 550.83,448.96 544.43,454.27 533.34,455.61" class="p"/>
<polygon points="258.77,325.46 269.85,330.81 263.44,324.46 252.36,317.91" class="t"/>
<polygon points="642.93,373.15 654.01,367.57 647.61,380.44 636.53,380.79" class="p"/>
<polygon points="361.95,400.89 373.03,410.59 366.63,403.24 355.55,395.76" class="t"/>
<polygon points="465.13,455.85 476.21,458.85 469.81,462.55 458.73,457.92" class="p"/>
<polygon points="184.15,276.38 195.23,285.56 188.83,285.09 177.75,277.54" class="p"/>
<polygon points="568.31,433.57 579.4,429.78 572.99,441.82 561.91,449.71" class="p"/>
<polygon points="287.33,347.14 298.41,353.68 292.01,347.61 280.93,337.85" class="t"/>
<polygon points="671.5,357.36 682.58,352.57 676.17,364.54 665.09,369.31" class="p"/>
<polygon points="390.52,428.34 401.6,434.3 395.19,428.38 384.11,420.24" class="t"/>
<polygon points="493.7,460.44 504.78,462.26 498.37,468.21 487.29,464.58" class="p"/>
<polygon points="212.72,295.13 223.8,299.55 217.39,294.32 206.31,294.25" class="t"/>
<polygon points="596.88,408.87 607.96,407.93 601.56,416 590.48,419.47" class="p"/>
<polygon points="315.9,366.08 326.98,369.67 320.58,366.92 309.49,360.48" class="t"/>
<polygon points="700.06,340.11 711.14,336.24 704.74,347.36 693.66,349.93" class="p"/>
<polygon points="419.08,447.29 430.16,449.52 423.76,452.9 412.68,447.11" class="p"/>
<polygon points="522.26,453.31 533.34,455.61 526.94,459.7 515.86,460.94" class="p"/>
<polygon points="241.28,312.94 252.36,317.91 245.96,311.58 234.88,307.17" class="t"/>
<polygon points="625.45,386.14 636.53,380.79 630.12,392.52 619.04,396.98" class="p"/>
<polygon points="344.46,386.12 355.55,395.76 349.14,392.3 338.06,380.37" class="p"/>
<polygon points="728.63,321.78 739.71,313.69 733.31,321.68 722.22,329.55" class="p"/>
<polygon points="447.65,454.39 458.73,457.92 452.32,461.15 441.24,456.49" class="p"/>
<polygon points="166.67,266.06 177.75,277.54 171.34,274.65 160.26,269.81" class="p"/>
<polygon points="550.83,448.96 561.91,449.71 555.51,452.32 544.43,454.27" class="p"/>
<polygon points="269.85,330.81 280.93,337.85 274.53,333.13 263.44,324.46" class="t"/>
<polygon points="654.01,367.57 665.09,369.31 658.69,379.24 647.61,380.44" class="p"/>
<polygon points="373.03,410.59 384.11,420.24 377.71,414.25 366.63,403.24" class="t"/>
<polygon points="476.21,458.85 487.29,464.58 480.89,470.28 469.81,462.55" class="p"/>
<polygon points="195.23,285.56 206.31,294.25 199.91,289.6 188.83,285.09" class="p"/>
<polygon points="579.4,429.78 590.48,419.47 584.07,433.62 572.99,441.82" class="p"/>
<polygon points="298.41,353.68 309.49,360.48 303.09,356.06 292.01,347.61" class="t"/>
<polygon points="682.58,352.57 693.66,349.93 687.25,360.77 676.17,364.54" class="p"/>
<polygon points="401.6,434.3 412.68,447.11 406.27,442.54 395.19,428.38" class="p"/>
<polygon points="504.78,462.26 515.86,460.94 509.46,465.89 498.37,468.21" class="p"/>
<polygon points="223.8,299.55 234.88,307.17 228.47,298.86 217.39,294.32" class="t"/>
<polygon points="607.96,407.93 619.04,396.98 612.64,410.1 601.56,416" class="p"/>
<polygon points="326.98,369.67 338.06,380.37 331.66,376.43 320.58,366.92" class="p"/>
<polygon points="711.14,336.24 722.22,329.55 715.82,339.12 704.74,347.36" class="p"/>
<polygon points="430.16,449.52 441.24,456.49 434.84,456.55 423.76,452.9" class="p"/>
<polygon points="533.34,455.61 544.43,454.27 538.02,458.03 526.94,459.7" class="p"/>
<polygon points="252.36,317.91 263.44,324.46 257.04,317.01 245.96,311.58" class="t"/>
<polygon points="636.53,380.79 647.61,380.44 641.2,386.69 630.12,392.52" class="p"/>
<polygon points="355.55,395.76 366.63,403.24 360.22,399.93 349.14,392.3" class="p"/>
<polygon points="458.73,457.92 469.81,462.55 463.4,467.53 452.32,461.15" class="p"/>
<polygon points="177.75,277.54 188.83,285.09 182.42,284.28 171.34,274.65" class="p"/>
<polygon points="561.91,449.71 572.99,441.82 566.59,448.05 555.51,452.32" class="p"/>
<polygon points="280.93,337.85 292.01,347.61 285.61,346.17 274.53,333.13" class="p"/>
<polygon points="665.09,369.31 676.17,364.54 669.77,376.08 658.69,379.24" class="p"/>
<polygon points="384.11,420.24 395.19,428.38 388.79,426.78 377.71,414.25" class="p"/>
<polygon points="487.29,464.58 498.37,468.21 491.97,473.62 480.89,470.28" class="p"/>
<polygon points="206.31,294.25 217.39,294.32 210.99,291.53 199.91,289.6" class="t"/>
<polygon points="590.48,419.47 601.56,416 595.15,427.39 584.07,433.62" class="p"/>
<polygon points="309.49,360.48 320.58,366.92 314.17,365.39 303.09,356.06" class="p"/>
<polygon points="693.66,349.93 704.74,347.36 698.34,355.14 687.25,360.77" class="p"/>
<polygon points="412.68,447.11 423.76,452.9 417.35,453.06 406.27,442.54" class="p"/>
<polygon points="515.86,460.94 526.94,459.7 520.54,466.55 509.46,465.89" class="p"/>
<polygon points="234.88,307.17 245.96,311.58 239.56,307.31 228.47,298.86" class="t"/>
<polygon points="619.04,396.98 630.12,392.52 623.72,404.58 612.64,410.1" class="p"/>
<polygon points="338.06,380.37 349.14,392.3 342.74,383.33 331.66,376.43" class="t"/>
<polygon points="722.22,329.55 733.31,321.68 726.9,333.08 715.82,339.12" class="p"/>
<polygon points="441.24,456.49 452.32,461.15 445.92,460.29 434.84,456.55" class="p"/>
<polygon points="160.26,269.81 171.34,274.65 164.94,272.53 153.86,272.77" class="p"/>
<polygon points="544.43,454.27 555.51,452.32 549.1,461.16 538.02,458.03" class="p"/>
<polygon points="263.44,324.46 274.53,333.13 268.12,326.82 257.04,317.01" class="t"/>
<polygon points="647.61,380.44 658.69,379.24 652.28,383.57 641.2,386.69" class="p"/>
<polygon points="366.63,403.24 377.71,414.25 371.3,412.83 360.22,399.93" class="p"/>
<polygon points="469.81,462.55 480.89,470.28 474.49,469.88 463.4,467.53" class="p"/>
<polygon points="188.83,285.09 199.91,289.6 193.5,287.51 182.42,284.28" class="p"/>
<polygon points="572.99,441.82 584.07,433.62 577.67,448.45 566.59,448.05" class="p"/>
<polygon points="292.01,347.61 303.09,356.06 296.69,351.4 285.61,346.17" class="p"/>
<polygon points="676.17,364.54 687.25,360.77 680.85,368.93 669.77,376.08" class="p"/>
<polygon points="395.19,428.38 406.27,442.54 399.87,432.48 388.79,426.78" class="t"/>
<polygon points="498.37,468.21 509.46,465.89 503.05,473.82 491.97,473.62" class="p"/>
<polygon points="217.39,294.32 228.47,298.86 222.07,296.21 210.99,291.53" class="t"/>
<polygon points="601.56,416 612.64,410.1 606.23,418.82 595.15,427.39" class="p"/>
<polygon points="320.58,366.92 331.66,376.43 325.25,370.97 314.17,365.39" class="p"/>
<polygon points="704.74,347.36 715.82,339.12 709.42,348.05 698.34,355.14" class="p"/>
<polygon points="423.76,452.9 434.84,456.55 428.44,455.93 417.35,453.06" class="p"/>
<polygon points="526.94,459.7 538.02,458.03 531.62,466.17 520.54,466.55" class="p"/>
<polygon points="245.96,311.58 257.04,317.01 250.64,313.38 239.56,307.31" class="t"/>
<polygon points="630.12,392.52 641.2,386.69 634.8,397.93 623.72,404.58" class="p"/>
<polygon points="349.14,392.3 360.22,399.93 353.82,395.78 342.74,383.33" class="t"/>
<polygon points="452.32,461.15 463.4,467.53 457,468.2 445.92,460.29" class="p"/>
<polygon points="171.34,274.65 182.42,284.28 176.02,277.4 164.94,272.53" class="t"/>
<polygon points="555.51,452.32 566.59,448.05 560.18,463.47 549.1,461.16" class="p"/>
<polygon points="274.53,333.13 285.61,346.17 279.2,338.16 268.12,326.82" class="t"/>
<polygon points="658.69,379.24 669.77,376.08 663.37,382.78 652.28,383.57" class="p"/>
<polygon points="377.71,414.25 388.79,426.78 382.38,419.73 371.3,412.83" class="p"/>
<polygon points="480.89,470.28 491.97,473.62 485.57,474.12 474.49,469.88" class="p"/>
<polygon points="199.91,289.6 210.99,291.53 204.59,288.12 193.5,287.51" class="t"/>
<polygon points="584.07,433.62 595.15,427.39 588.75,441.16 577.67,448.45" class="p"/>
<polygon points="303.09,356.06 314.17,365.39 307.77,360.04 296.69,351.4" class="p"/>
<polygon points="687.25,360.77 698.34,355.14 691.93,367.85 680.85,368.93" class="p"/>
<polygon points="406.27,442.54 417.35,453.06 410.95,442.73 399.87,432.48" class="t"/>
<polygon points="509.46,465.89 520.54,466.55 514.13,474.29 503.05,473.82" class="p"/>
<polygon points="228.47,298.86 239.56,307.31 233.15,303.7 222.07,296.21" class="p"/>
<polygon points="612.64,410.1 623.72,404.58 617.31,416.28 606.23,418.82" class="p"/>
<polygon points="331.66,376.43 342.74,383.33 336.33,380.13 325.25,370.97" class="p"/>
<polygon points="715.82,339.12 726.9,333.08 720.5,344.49 709.42,348.05" class="p"/>
<polygon points="434.84,456.55 445.92,460.29 439.52,460.62 428.44,455.93" class="p"/>
<polygon points="153.86,272.77 164.94,272.53 158.53,274.41 147.45,279.85" class="p"/>
<polygon points="538.02,458.03 549.1,461.16 542.7,463.49 531.62,466.17" class="p"/>
<polygon points="257.04,317.01 268.12,326.82 261.72,323.01 250.64,313.38" class="p"/>
<polygon points="641.2,386.69 652.28,383.57 645.88,394.32 634.8,397.93" class="p"/>
<polygon points="360.22,399.93 371.3,412.83 364.9,405.4 353.82,395.78" class="p"/>
<polygon points="463.4,467.53 474.49,469.88 468.08,473.95 457,468.2" class="p"/>
<polygon points="182.42,284.28 193.5,287.51 187.1,282.03 176.02,277.4" class="t"/>
<polygon points="566.59,448.05 577.67,448.45 571.26,459.48 560.18,463.47" class="p"/>
<polygon points="285.61,346.17 296.69,351.4 290.28,346.55 279.2,338.16" class="t"/>
<polygon points="669.77,376.08 680.85,368.93 674.45,382.6 663.37,382.78" class="p"/>
<polygon points="388.79,426.78 399.87,432.48 393.47,428.55 382.38,419.73" class="t"/>
<polygon points="491.97,473.62 503.05,473.82 496.65,478.35 485.57,474.12" class="p"/>
<polygon points="210.99,291.53 222.07,296.21 215.67,294.37 204.59,288.12" class="p"/>
<polygon points="595.15,427.39 606.23,418.82 599.83,435.58 588.75,441.16" class="p"/>
<polygon points="314.17,365.39 325.25,370.97 318.85,369.85 307.77,360.04" class="p"/>
<polygon points="698.34,355.14 709.42,348.05 703.01,361.27 691.93,367.85" class="p"/>
<polygon points="417.35,453.06 428.44,455.93 422.03,460.5 410.95,442.73" class="p"/>
<polygon points="520.54,466.55 531.62,466.17 525.21,473.78 514.13,474.29" class="p"/>
<polygon points="239.56,307.31 250.64,313.38 244.23,308.02 233.15,303.7" class="t"/>
<polygon points="623.72,404.58 634.8,397.93 628.4,412.89 617.31,416.28" class="p"/>
<polygon points="342.74,383.33 353.82,395.78 347.41,386.48 336.33,380.13" class="t"/>
<polygon points="445.92,460.29 457,468.2 450.6,467.66 439.52,460.62" class="p"/>
<polygon points="164.94,272.53 176.02,277.4 169.62,274.71 158.53,274.41" class="p"/>
<polygon points="549.1,461.16 560.18,463.47 553.78,468.83 542.7,463.49" class="p"/>
<polygon points="268.12,326.82 279.2,338.16 272.8,327.07 261.72,323.01" class="t"/>
<polygon points="652.28,383.57 663.37,382.78 656.96,391.04 645.88,394.32" class="p"/>
<polygon points="371.3,412.83 382.38,419.73 375.98,411.12 364.9,405.4" class="t"/>
<polygon points="474.49,469.88 485.57,474.12 479.16,477.9 468.08,473.95" class="p"/>
<polygon points="193.5,287.51 204.59,288.12 198.18,289.91 187.1,282.03" class="p"/>
<polygon points="577.67,448.45 588.75,441.16 582.35,452.7 571.26,459.48" class="p"/>
<polygon points="296.69,351.4 307.77,360.04 301.36,356.63 290.28,346.55" class="p"/>
<polygon points="680.85,368.93 691.93,367.85 685.53,375.59 674.45,382.6" class="p"/>
<polygon points="399.87,432.48 410.95,442.73 404.55,440.28 393.47,428.55" class="p"/>
<polygon points="503.05,473.82 514.13,474.29 507.73,480.08 496.65,478.35" class="p"/>
<polygon points="222.07,296.21 233.15,303.7 226.75,296.2 215.67,294.37" class="t"/>
<polygon points="606.23,418.82 617.31,416.28 610.91,426.41 599.83,435.58" class="p"/>
<polygon points="325.25,370.97 336.33,380.13 329.93,376.08 318.85,369.85" class="p"/>
<polygon points="709.42,348.05 720.5,344.49 714.09,354.32 703.01,361.27" class="p"/>
<polygon points="428.44,455.93 439.52,460.62 433.11,463.1 422.03,460.5" class="p"/>
<polygon points="147.45,279.85 158.53,274.41 152.13,286.63 141.05,294.87" class="p"/>
<polygon points="531.62,466.17 542.7,463.49 536.29,472.36 525.21,473.78" class="p"/>
<polygon points="250.64,313.38 261.72,323.01 255.31,311.85 244.23,308.02" class="t"/>
<polygon points="634.8,397.93 645.88,394.32 639.48,405.58 628.4,412.89" class="p"/>
<polygon points="353.82,395.78 364.9,405.4 358.5,394.24 347.41,386.48" class="t"/>
<polygon points="457,468.2 468.08,473.95 461.68,473.78 450.6,467.66" class="p"/>
<polygon points="176.02,277.4 187.1,282.03 180.7,284.27 169.62,274.71" class="p"/>
<polygon points="560.18,463.47 571.26,459.48 564.86,464.42 553.78,468.83" class="p"/>
<polygon points="279.2,338.16 290.28,346.55 283.88,333.54 272.8,327.07" class="t"/>
<polygon points="663.37,382.78 674.45,382.6 668.04,390.28 656.96,391.04" class="p"/>
<polygon points="382.38,419.73 393.47,428.55 387.06,428.98 375.98,411.12" class="p"/>
<polygon points="485.57,474.12 496.65,478.35 490.24,484.93 479.16,477.9" class="p"/>
<polygon points="204.59,288.12 215.67,294.37 209.26,292.08 198.18,289.91" class="p"/>
<polygon points="588.75,441.16 599.83,435.58 593.43,446.3 582.35,452.7" class="p"/>
<polygon points="307.77,360.04 318.85,369.85 312.44,360.87 301.36,356.63" class="t"/>
<polygon points="691.93,367.85 703.01,361.27 696.61,373.4 685.53,375.59" class="p"/>
<polygon points="410.95,442.73 422.03,460.5 415.63,454.9 404.55,440.28" class="p"/>
<polygon points="514.13,474.29 525.21,473.78 518.81,477.47 507.73,480.08" class="p"/>
<polygon points="233.15,303.7 244.23,308.02 237.83,300 226.75,296.2" class="t"/>
<polygon points="617.31,416.28 628.4,412.89 621.99,424.2 610.91,426.41" class="p"/>
<polygon points="336.33,380.13 347.41,386.48 341.01,382.61 329.93,376.08" class="t"/>
<polygon points="439.52,460.62 450.6,467.66 444.19,463.73 433.11,463.1" class="p"/>
<polygon points="158.53,274.41 169.62,274.71 163.21,284.06 152.13,286.63" class="p"/>
<polygon points="542.7,463.49 553.78,468.83 547.38,472.47 536.29,472.36" class="p"/>
<polygon points="261.72,323.01 272.8,327.07 266.39,320.94 255.31,311.85" class="t"/>
<polygon points="645.88,394.32 656.96,391.04 650.56,401.33 639.48,405.58" class="p"/>
<polygon points="364.9,405.4 375.98,411.12 369.58,408.73 358.5,394.24" class="t"/>
<polygon points="468.08,473.95 479.16,477.9 472.76,479.74 461.68,473.78" class="p"/>
<polygon points="187.1,282.03 198.18,289.91 191.78,290.57 180.7,284.27" class="p"/>
<polygon points="571.26,459.48 582.35,452.7 575.94,465.25 564.86,464.42" class="p"/>
<polygon points="290.28,346.55 301.36,356.63 294.96,347.52 283.88,333.54" class="t"/>
<polygon points="674.45,382.6 685.53,375.59 679.12,386.33 668.04,390.28" class="p"/>
<polygon points="393.47,428.55 404.55,440.28 398.14,436.57 387.06,428.98" class="p"/>
<polygon points="496.65,478.35 507.73,480.08 501.32,488.23 490.24,484.93" class="p"/>
<polygon points="215.67,294.37 226.75,296.2 220.34,294.8 209.26,292.08" class="t"/>
<polygon points="599.83,435.58 610.91,426.41 604.51,437.82 593.43,446.3" class="p"/>
<polygon points="318.85,369.85 329.93,376.08 323.53,374.85 312.44,360.87" class="p"/>
<polygon points="703.01,361.27 714.09,354.32 707.69,368.07 696.61,373.4" class="p"/>
<polygon points="422.03,460.5 433.11,463.1 426.71,464.82 415.63,454.9" class="p"/>
<polygon points="141.05,294.87 152.13,286.63 145.73,299.42 134.65,312.58" class="p"/>
<polygon points="525.21,473.78 536.29,472.36 529.89,478.99 518.81,477.47" class="p"/>
<polygon points="244.23,308.02 255.31,311.85 248.91,302.63 237.83,300" class="t"/>
<polygon points="628.4,412.89 639.48,405.58 633.07,417.16 621.99,424.2" class="p"/>
<polygon points="347.41,386.48 358.5,394.24 352.09,394.01 341.01,382.61" class="p"/>
<polygon points="450.6,467.66 461.68,473.78 455.27,471.67 444.19,463.73" class="p"/>
<polygon points="169.62,274.71 180.7,284.27 174.29,287.87 163.21,284.06" class="p"/>
<polygon points="553.78,468.83 564.86,464.42 558.46,473.62 547.38,472.47" class="p"/>
<polygon points="272.8,327.07 283.88,333.54 277.48,334.12 266.39,320.94" class="p"/>
<polygon points="656.96,391.04 668.04,390.28 661.64,399.34 650.56,401.33" class="p"/>
<polygon points="375.98,411.12 387.06,428.98 380.66,422.5 369.58,408.73" class="p"/>
<polygon points="479.16,477.9 490.24,484.93 483.84,483.37 472.76,479.74" class="p"/>
<polygon points="198.18,289.91 209.26,292.08 202.86,292.71 191.78,290.57" class="p"/>
<polygon points="582.35,452.7 593.43,446.3 587.02,456.36 575.94,465.25" class="p"/>
<polygon points="301.36,356.63 312.44,360.87 306.04,357.04 294.96,347.52" class="t"/>
<polygon points="685.53,375.59 696.61,373.4 690.2,378.79 679.12,386.33" class="p"/>
<polygon points="404.55,440.28 415.63,454.9 409.22,446.64 398.14,436.57" class="p"/>
<polygon points="507.73,480.08 518.81,477.47 512.41,483.11 501.32,488.23" class="p"/>
<polygon points="226.75,296.2 237.83,300 231.42,293.79 220.34,294.8" class="t"/>
<polygon points="610.91,426.41 621.99,424.2 615.59,433.59 604.51,437.82" class="p"/>
<polygon points="329.93,376.08 341.01,382.61 334.61,379.83 323.53,374.85" class="p"/>
<polygon points="433.11,463.1 444.19,463.73 437.79,466.18 426.71,464.82" class="p"/>
<polygon points="152.13,286.63 163.21,284.06 156.81,294.16 145.73,299.42" class="p"/>
<polygon points="536.29,472.36 547.38,472.47 540.97,478.85 529.89,478.99" class="p"/>
<polygon points="255.31,311.85 266.39,320.94 259.99,313.81 248.91,302.63" class="t"/>
<polygon points="639.48,405.58 650.56,401.33 644.15,410.49 633.07,417.16" class="p"/>
<polygon points="358.5,394.24 369.58,408.73 363.17,405.37 352.09,394.01" class="p"/>
<polygon points="461.68,473.78 472.76,479.74 466.35,477.44 455.27,471.67" class="p"/>
<polygon points="180.7,284.27 191.78,290.57 185.37,287 174.29,287.87" class="p"/>
<polygon points="564.86,464.42 575.94,465.25 569.54,473.43 558.46,473.62" class="p"/>
<polygon points="283.88,333.54 294.96,347.52 288.56,343.19 277.48,334.12" class="p"/>
<polygon points="668.04,390.28 679.12,386.33 672.72,393.71 661.64,399.34" class="p"/>
<polygon points="387.06,428.98 398.14,436.57 391.74,432.23 380.66,422.5" class="t"/>
<polygon points="490.24,484.93 501.32,488.23 494.92,491.54 483.84,483.37" class="p"/>
<polygon points="209.26,292.08 220.34,294.8 213.94,294.63 202.86,292.71" class="p"/>
<polygon points="593.43,446.3 604.51,437.82 598.1,452.46 587.02,456.36" class="p"/>
<polygon points="312.44,360.87 323.53,374.85 317.12,368.85 306.04,357.04" class="p"/>
<polygon points="696.61,373.4 707.69,368.07 701.29,380.33 690.2,378.79" class="p"/>
<polygon points="415.63,454.9 426.71,464.82 420.3,458.87 409.22,446.64" class="t"/>
<polygon points="518.81,477.47 529.89,478.99 523.49,487.66 512.41,483.11" class="p"/>
<polygon points="237.83,300 248.91,302.63 242.51,297.59 231.42,293.79" class="t"/>
<polygon points="621.99,424.2 633.07,417.16 626.67,426.91 615.59,433.59" class="p"/>
<polygon points="341.01,382.61 352.09,394.01 345.69,389.7 334.61,379.83" class="p"/>
<polygon points="444.19,463.73 455.27,471.67 448.87,473.72 437.79,466.18" class="p"/>
<polygon points="163.21,284.06 174.29,287.87 167.89,297.93 156.81,294.16" class="p"/>
<polygon points="547.38,472.47 558.46,473.62 552.05,477.69 540.97,478.85" class="p"/>
<polygon points="266.39,320.94 277.48,334.12 271.07,328.45 259.99,313.81" class="p"/>
<polygon points="650.56,401.33 661.64,399.34 655.23,407.77 644.15,410.49" class="p"/>
<polygon points="369.58,408.73 380.66,422.5 374.25,410.79 363.17,405.37" class="t"/>
<polygon points="472.76,479.74 483.84,483.37 477.44,483.4 466.35,477.44" class="p"/>
<polygon points="191.78,290.57 202.86,292.71 196.45,295.37 185.37,287" class="p"/>
<polygon points="575.94,465.25 587.02,456.36 580.62,469.4 569.54,473.43" class="p"/>
<polygon points="294.96,347.52 306.04,357.04 299.64,354.49 288.56,343.19" class="p"/>
<polygon points="679.12,386.33 690.2,378.79 683.8,394.77 672.72,393.71" class="p"/>
<polygon points="398.14,436.57 409.22,446.64 402.82,444.47 391.74,432.23" class="p"/>
<polygon points="501.32,488.23 512.41,483.11 506,491.37 494.92,491.54" class="p"/>
<polygon points="220.34,294.8 231.42,293.79 225.02,292.68 213.94,294.63" class="t"/>
<polygon points="604.51,437.82 615.59,433.59 609.18,447.88 598.1,452.46" class="p"/>
<polygon points="323.53,374.85 334.61,379.83 328.2,381.47 317.12,368.85" class="p"/>
<polygon points="426.71,464.82 437.79,466.18 431.39,470.85 420.3,458.87" class="p"/>
<polygon points="529.89,478.99 540.97,478.85 534.57,484.12 523.49,487.66" class="p"/>
<polygon points="248.91,302.63 259.99,313.81 253.59,311.08 242.51,297.59" class="p"/>
<polygon points="633.07,417.16 644.15,410.49 637.75,424.71 626.67,426.91" class="p"/>
<polygon points="352.09,394.01 363.17,405.37 356.77,396.06 345.69,389.7" class="t"/>
<polygon points="455.27,471.67 466.35,477.44 459.95,479.11 448.87,473.72" class="p"/>
<polygon points="174.29,287.87 185.37,287 178.97,291.11 167.89,297.93" class="p"/>
<polygon points="558.46,473.62 569.54,473.43 563.13,476.9 552.05,477.69" class="p"/>
<polygon points="277.48,334.12 288.56,343.19 282.15,338.64 271.07,328.45" class="p"/>
<polygon points="661.64,399.34 672.72,393.71 666.32,405.25 655.23,407.77" class="p"/>
<polygon points="380.66,422.5 391.74,432.23 385.33,426.52 374.25,410.79" class="t"/>
<polygon points="483.84,483.37 494.92,491.54 488.52,489.35 477.44,483.4" class="p"/>
<polygon points="202.86,292.71 213.94,294.63 207.54,299.71 196.45,295.37" class="p"/>
<polygon points="587.02,456.36 598.1,452.46 591.7,464.94 580.62,469.4" class="p"/>
<polygon points="306.04,357.04 317.12,368.85 310.72,369.83 299.64,354.49" class="p"/>
<polygon points="690.2,378.79 701.29,380.33 694.88,396.62 683.8,394.77" class="p"/>
<polygon points="409.22,446.64 420.3,458.87 413.9,455.26 402.82,444.47" class="p"/>
<polygon points="512.41,483.11 523.49,487.66 517.08,493.6 506,491.37" class="p"/>
<polygon points="231.42,293.79 242.51,297.59 236.1,293.86 225.02,292.68" class="t"/>
<polygon points="615.59,433.59 626.67,426.91 620.26,440.07 609.18,447.88" class="p"/>
<polygon points="334.61,379.83 345.69,389.7 339.28,386.19 328.2,381.47" class="p"/>
<polygon points="437.79,466.18 448.87,473.72 442.47,475.62 431.39,470.85" class="p"/>
<polygon points="540.97,478.85 552.05,477.69 545.65,487.56 534.57,484.12" class="p"/>
<polygon points="259.99,313.81 271.07,328.45 264.67,327.05 253.59,311.08" class="p"/>
<polygon points="644.15,410.49 655.23,407.77 648.83,415.28 637.75,424.71" class="p"/>
<polygon points="363.17,405.37 374.25,410.79 367.85,407.6 356.77,396.06" class="t"/>
<polygon points="466.35,477.44 477.44,483.4 471.03,481.95 459.95,479.11" class="p"/>
<polygon points="185.37,287 196.45,295.37 190.05,299.01 178.97,291.11" class="p"/>
<polygon points="569.54,473.43 580.62,469.4 574.21,479.63 563.13,476.9" class="p"/>
<polygon points="288.56,343.19 299.64,354.49 293.23,354.36 282.15,338.64" class="p"/>
<polygon points="672.72,393.71 683.8,394.77 677.4,403.98 666.32,405.25" class="p"/>
<polygon points="391.74,432.23 402.82,444.47 396.42,438.94 385.33,426.52" class="p"/>
<polygon points="494.92,491.54 506,491.37 499.6,494.14 488.52,489.35" class="p"/>
<polygon points="213.94,294.63 225.02,292.68 218.62,301.08 207.54,299.71" class="p"/>
<polygon points="598.1,452.46 609.18,447.88 602.78,457.57 591.7,464.94" class="p"/>
<polygon points="317.12,368.85 328.2,381.47 321.8,377.72 310.72,369.83" class="p"/>
<polygon points="420.3,458.87 431.39,470.85 424.98,461.88 413.9,455.26" class="t"/>
<polygon points="523.49,487.66 534.57,484.12 528.16,491.18 517.08,493.6" class="p"/>
<polygon points="242.51,297.59 253.59,311.08 247.18,311.79 236.1,293.86" class="p"/>
<polygon points="626.67,426.91 637.75,424.71 631.35,433.51 620.26,440.07" class="p"/>
<polygon points="345.69,389.7 356.77,396.06 350.36,399.73 339.28,386.19" class="p"/>
<polygon points="448.87,473.72 459.95,479.11 453.55,480.4 442.47,475.62" class="p"/>
<polygon points="552.05,477.69 563.13,476.9 556.73,484.62 545.65,487.56" class="p"/>
<polygon points="271.07,328.45 282.15,338.64 275.75,336.77 264.67,327.05" class="p"/>
<polygon points="655.23,407.77 666.32,405.25 659.91,408.57 648.83,415.28" class="p"/>
<polygon points="374.25,410.79 385.33,426.52 378.93,420.97 367.85,407.6" class="p"/>
<polygon points="477.44,483.4 488.52,489.35 482.11,484.69 471.03,481.95" class="t"/>
<polygon points="196.45,295.37 207.54,299.71 201.13,308.77 190.05,299.01" class="p"/>
<polygon points="580.62,469.4 591.7,464.94 585.3,478.33 574.21,479.63" class="p"/>
<polygon points="299.64,354.49 310.72,369.83 304.31,364.79 293.23,354.36" class="p"/>
<polygon points="683.8,394.77 694.88,396.62 688.48,407.69 677.4,403.98" class="p"/>
<polygon points="402.82,444.47 413.9,455.26 407.5,447.47 396.42,438.94" class="t"/>
<polygon points="506,491.37 517.08,493.6 510.68,500.17 499.6,494.14" class="p"/>
<polygon points="225.02,292.68 236.1,293.86 229.7,306.76 218.62,301.08" class="p"/>
<polygon points="609.18,447.88 620.26,440.07 613.86,450.85 602.78,457.57" class="p"/>
<polygon points="328.2,381.47 339.28,386.19 332.88,386.19 321.8,377.72" class="p"/>
<polygon points="431.39,470.85 442.47,475.62 436.06,475.1 424.98,461.88" class="p"/>
<polygon points="534.57,484.12 545.65,487.56 539.24,488.26 528.16,491.18" class="p"/>
<polygon points="253.59,311.08 264.67,327.05 258.26,328.9 247.18,311.79" class="p"/>
<polygon points="637.75,424.71 648.83,415.28 642.43,429.11 631.35,433.51" class="p"/>
<polygon points="356.77,396.06 367.85,407.6 361.45,406.25 350.36,399.73" class="p"/>
<polygon points="459.95,479.11 471.03,481.95 464.63,485.39 453.55,480.4" class="p"/>
<polygon points="563.13,476.9 574.21,479.63 567.81,485.96 556.73,484.62" class="p"/>
<polygon points="282.15,338.64 293.23,354.36 286.83,354.6 275.75,336.77" class="p"/>
<polygon points="666.32,405.25 677.4,403.98 670.99,410.64 659.91,408.57" class="p"/>
<polygon points="385.33,426.52 396.42,438.94 390.01,432.27 378.93,420.97" class="p"/>
<polygon points="488.52,489.35 499.6,494.14 493.19,492.31 482.11,484.69" class="p"/>
<polygon points="207.54,299.71 218.62,301.08 212.21,316.24 201.13,308.77" class="p"/>
<polygon points="591.7,464.94 602.78,457.57 596.38,472.1 585.3,478.33" class="p"/>
<polygon points="310.72,369.83 321.8,377.72 315.39,373.27 304.31,364.79" class="t"/>
<polygon points="413.9,455.26 424.98,461.88 418.58,458.51 407.5,447.47" class="t"/>
<polygon points="517.08,493.6 528.16,491.18 521.76,497.44 510.68,500.17" class="p"/>
<polygon points="236.1,293.86 247.18,311.79 240.78,320.68 229.7,306.76" class="p"/>
<polygon points="620.26,440.07 631.35,433.51 624.94,446.01 613.86,450.85" class="p"/>
<polygon points="339.28,386.19 350.36,399.73 343.96,397.01 332.88,386.19" class="p"/>
<polygon points="442.47,475.62 453.55,480.4 447.14,484.54 436.06,475.1" class="p"/>
<polygon points="545.65,487.56 556.73,484.62 550.33,489.35 539.24,488.26" class="p"/>
<polygon points="264.67,327.05 275.75,336.77 269.34,341.69 258.26,328.9" class="p"/>
<polygon points="648.83,415.28 659.91,408.57 653.51,422.56 642.43,429.11" class="p"/>
<polygon points="367.85,407.6 378.93,420.97 372.53,415.47 361.45,406.25" class="p"/>
<polygon points="471.03,481.95 482.11,484.69 475.71,493.71 464.63,485.39" class="p"/>
<polygon points="574.21,479.63 585.3,478.33 578.89,485.66 567.81,485.96" class="p"/>
<polygon points="293.23,354.36 304.31,364.79 297.91,360.43 286.83,354.6" class="p"/>
<polygon points="677.4,403.98 688.48,407.69 682.07,412.24 670.99,410.64" class="p"/>
<polygon points="396.42,438.94 407.5,447.47 401.09,442.79 390.01,432.27" class="t"/>
<polygon points="499.6,494.14 510.68,500.17 504.27,499.89 493.19,492.31" class="p"/>
<polygon points="218.62,301.08 229.7,306.76 223.29,320.71 212.21,316.24" class="p"/>
<polygon points="602.78,457.57 613.86,450.85 607.46,465.58 596.38,472.1" class="p"/>
<polygon points="321.8,377.72 332.88,386.19 326.48,387.75 315.39,373.27" class="p"/>
<polygon points="424.98,461.88 436.06,475.1 429.66,471.91 418.58,458.51" class="p"/>
<polygon points="528.16,491.18 539.24,488.26 532.84,499.25 521.76,497.44" class="p"/>
<polygon points="247.18,311.79 258.26,328.9 251.86,336.31 240.78,320.68" class="p"/>
<polygon points="631.35,433.51 642.43,429.11 636.02,437.23 624.94,446.01" class="p"/>
<polygon points="350.36,399.73 361.45,406.25 355.04,408.51 343.96,397.01" class="p"/>
<polygon points="453.55,480.4 464.63,485.39 458.22,485.39 447.14,484.54" class="p"/>
<polygon points="556.73,484.62 567.81,485.96 561.41,493.92 550.33,489.35" class="p"/>
<polygon points="275.75,336.77 286.83,354.6 280.43,354.41 269.34,341.69" class="p"/>
<polygon points="659.91,408.57 670.99,410.64 664.59,422.04 653.51,422.56" class="p"/>
<polygon points="378.93,420.97 390.01,432.27 383.61,425.57 372.53,415.47" class="p"/>
<polygon points="482.11,484.69 493.19,492.31 486.79,495.98 475.71,493.71" class="p"/>
<polygon points="585.3,478.33 596.38,472.1 589.97,483.44 578.89,485.66" class="p"/>
<polygon points="304.31,364.79 315.39,373.27 308.99,375.04 297.91,360.43" class="p"/>
<polygon points="407.5,447.47 418.58,458.51 412.17,453.98 401.09,442.79" class="p"/>
<polygon points="510.68,500.17 521.76,497.44 515.36,504.92 504.27,499.89" class="p"/>
<polygon points="229.7,306.76 240.78,320.68 234.37,335.9 223.29,320.71" class="p"/>
<polygon points="613.86,450.85 624.94,446.01 618.54,461.34 607.46,465.58" class="p"/>
<polygon points="332.88,386.19 343.96,397.01 337.56,395.6 326.48,387.75" class="p"/>
<polygon points="436.06,475.1 447.14,484.54 440.74,480.34 429.66,471.91" class="p"/>
<polygon points="539.24,488.26 550.33,489.35 543.92,499.13 532.84,499.25" class="p"/>
<polygon points="258.26,328.9 269.34,341.69 262.94,350.91 251.86,336.31" class="p"/>
<polygon points="642.43,429.11 653.51,422.56 647.1,437.34 636.02,437.23" class="p"/>
<polygon points="361.45,406.25 372.53,415.47 366.12,413.26 355.04,408.51" class="p"/>
<polygon points="464.63,485.39 475.71,493.71 469.3,489.28 458.22,485.39" class="p"/>
<polygon points="567.81,485.96 578.89,485.66 572.49,490.42 561.41,493.92" class="p"/>
<polygon points="286.83,354.6 297.91,360.43 291.51,365.45 280.43,354.41" class="p"/>
<polygon points="670.99,410.64 682.07,412.24 675.67,425.62 664.59,422.04" class="p"/>
<polygon points="390.01,432.27 401.09,442.79 394.69,437.58 383.61,425.57" class="p"/>
<polygon points="493.19,492.31 504.27,499.89 497.87,502.74 486.79,495.98" class="p"/>
<polygon points="596.38,472.1 607.46,465.58 601.05,475.22 589.97,483.44" class="p"/>
<polygon points="315.39,373.27 326.48,387.75 320.07,389.49 308.99,375.04" class="p"/>
<polygon points="418.58,458.51 429.66,471.91 423.25,466.68 412.17,453.98" class="p"/>
<polygon points="521.76,497.44 532.84,499.25 526.44,504.13 515.36,504.92" class="p"/>
<polygon points="240.78,320.68 251.86,336.31 245.46,348.99 234.37,335.9" class="p"/>
<polygon points="624.94,446.01 636.02,437.23 629.62,451.82 618.54,461.34" class="p"/>
<polygon points="343.96,397.01 355.04,408.51 348.64,406.19 337.56,395.6" class="p"/>
<polygon points="447.14,484.54 458.22,485.39 451.82,488.9 440.74,480.34" class="p"/>
<polygon points="550.33,489.35 561.41,493.92 555,500.44 543.92,499.13" class="p"/>
<polygon points="269.34,341.69 280.43,354.41 274.02,356.21 262.94,350.91" class="p"/>
<polygon points="653.51,422.56 664.59,422.04 658.18,430.55 647.1,437.34" class="p"/>
<polygon points="372.53,415.47 383.61,425.57 377.2,421.25 366.12,413.26" class="p"/>
<polygon points="475.71,493.71 486.79,495.98 480.39,497.4 469.3,489.28" class="p"/>
<polygon points="578.89,485.66 589.97,483.44 583.57,490.13 572.49,490.42" class="p"/>
<polygon points="297.91,360.43 308.99,375.04 302.59,375.8 291.51,365.45" class="p"/>
<polygon points="401.09,442.79 412.17,453.98 405.77,448.76 394.69,437.58" class="p"/>
<polygon points="504.27,499.89 515.36,504.92 508.95,507.62 497.87,502.74" class="p"/>
<polygon points="607.46,465.58 618.54,461.34 612.13,472.13 601.05,475.22" class="p"/>
<polygon points="326.48,387.75 337.56,395.6 331.15,389.62 320.07,389.49" class="p"/>
<polygon points="429.66,471.91 440.74,480.34 434.34,477.04 423.25,466.68" class="p"/>
<polygon points="532.84,499.25 543.92,499.13 537.52,506.28 526.44,504.13" class="p"/>
<polygon points="251.86,336.31 262.94,350.91 256.54,353.56 245.46,348.99" class="p"/>
<polygon points="636.02,437.23 647.1,437.34 640.7,448.89 629.62,451.82" class="p"/>
<polygon points="355.04,408.51 366.12,413.26 359.72,411.66 348.64,406.19" class="p"/>
<polygon points="458.22,485.39 469.3,489.28 462.9,494.77 451.82,488.9" class="p"/>
<polygon points="561.41,493.92 572.49,490.42 566.08,498.61 555,500.44" class="p"/>
<polygon points="280.43,354.41 291.51,365.45 285.1,362.44 274.02,356.21" class="p"/>
<polygon points="664.59,422.04 675.67,425.62 669.27,431.17 658.18,430.55" class="p"/>
<polygon points="383.61,425.57 394.69,437.58 388.28,430.9 377.2,421.25" class="p"/>
<polygon points="486.79,495.98 497.87,502.74 491.47,503.4 480.39,497.4" class="p"/>
<polygon points="589.97,483.44 601.05,475.22 594.65,492.69 583.57,490.13" class="p"/>
<polygon points="308.99,375.04 320.07,389.49 313.67,385.02 302.59,375.8" class="p"/>
<polygon points="412.17,453.98 423.25,466.68 416.85,462.25 405.77,448.76" class="p"/>
<polygon points="515.36,504.92 526.44,504.13 520.03,511.63 508.95,507.62" class="p"/>
<polygon points="618.54,461.34 629.62,451.82 623.21,466.26 612.13,472.13" class="p"/>
<polygon points="337.56,395.6 348.64,406.19 342.23,400.69 331.15,389.62" class="p"/>
<polygon points="440.74,480.34 451.82,488.9 445.42,485.17 434.34,477.04" class="p"/>
<polygon points="543.92,499.13 555,500.44 548.6,507.02 537.52,506.28" class="p"/>
<polygon points="262.94,350.91 274.02,356.21 267.62,364.84 256.54,353.56" class="p"/>
<polygon points="647.1,437.34 658.18,430.55 651.78,443.52 640.7,448.89" class="p"/>
<polygon points="366.12,413.26 377.2,421.25 370.8,416.63 359.72,411.66" class="p"/>
<polygon points="469.3,489.28 480.39,497.4 473.98,497.86 462.9,494.77" class="p"/>
<polygon points="572.49,490.42 583.57,490.13 577.16,500.5 566.08,498.61" class="p"/>
<polygon points="291.51,365.45 302.59,375.8 296.18,381.31 285.1,362.44" class="p"/>
<polygon points="394.69,437.58 405.77,448.76 399.37,449.13 388.28,430.9" class="p"/>
<polygon points="497.87,502.74 508.95,507.62 502.55,508.22 491.47,503.4" class="p"/>
<polygon points="601.05,475.22 612.13,472.13 605.73,487.16 594.65,492.69" class="p"/>
<polygon points="320.07,389.49 331.15,389.62 324.75,395.47 313.67,385.02" class="p"/>
<polygon points="423.25,466.68 434.34,477.04 427.93,474.6 416.85,462.25" class="p"/>
<polygon points="526.44,504.13 537.52,506.28 531.11,510.77 520.03,511.63" class="p"/>
<polygon points="629.62,451.82 640.7,448.89 634.3,462.46 623.21,466.26" class="p"/>
<polygon points="348.64,406.19 359.72,411.66 353.31,413.47 342.23,400.69" class="p"/>
<polygon points="451.82,488.9 462.9,494.77 456.5,497.66 445.42,485.17" class="p"/>
<polygon points="555,500.44 566.08,498.61 559.68,504.91 548.6,507.02" class="p"/>
<polygon points="274.02,356.21 285.1,362.44 278.7,376.28 267.62,364.84" class="p"/>
<polygon points="658.18,430.55 669.27,431.17 662.86,443.05 651.78,443.52" class="p"/>
<polygon points="377.2,421.25 388.28,430.9 381.88,430.86 370.8,416.63" class="p"/>
<polygon points="480.39,497.4 491.47,503.4 485.06,501.73 473.98,497.86" class="p"/>
<polygon points="583.57,490.13 594.65,492.69 588.25,499.49 577.16,500.5" class="p"/>
<polygon points="302.59,375.8 313.67,385.02 307.26,386.85 296.18,381.31" class="p"/>
<polygon points="405.77,448.76 416.85,462.25 410.45,451.33 399.37,449.13" class="t"/>
<polygon points="508.95,507.62 520.03,511.63 513.63,512.52 502.55,508.22" class="p"/>
<polygon points="612.13,472.13 623.21,466.26 616.81,479.69 605.73,487.16" class="p"/>
<polygon points="331.15,389.62 342.23,400.69 335.83,402.61 324.75,395.47" class="p"/>
<polygon points="434.34,477.04 445.42,485.17 439.01,483.3 427.93,474.6" class="p"/>
<polygon points="537.52,506.28 548.6,507.02 542.19,510.27 531.11,510.77" class="p"/>
<polygon points="640.7,448.89 651.78,443.52 645.38,454.96 634.3,462.46" class="p"/>
<polygon points="359.72,411.66 370.8,416.63 364.4,418.66 353.31,413.47" class="p"/>
<polygon points="462.9,494.77 473.98,497.86 467.58,499.17 456.5,497.66" class="p"/>
<polygon points="566.08,498.61 577.16,500.5 570.76,507.15 559.68,504.91" class="p"/>
<polygon points="285.1,362.44 296.18,381.31 289.78,386.24 278.7,376.28" class="p"/>
<polygon points="388.28,430.9 399.37,449.13 392.96,440.34 381.88,430.86" class="p"/>
<polygon points="491.47,503.4 502.55,508.22 496.14,509.75 485.06,501.73" class="p"/>
<polygon points="594.65,492.69 605.73,487.16 599.33,496.35 588.25,499.49" class="p"/>
<polygon points="313.67,385.02 324.75,395.47 318.34,399.31 307.26,386.85" class="p"/>
<polygon points="416.85,462.25 427.93,474.6 421.53,469.59 410.45,451.33" class="p"/>
<polygon points="520.03,511.63 531.11,510.77 524.71,517.57 513.63,512.52" class="p"/>
<polygon points="623.21,466.26 634.3,462.46 627.89,476.56 616.81,479.69" class="p"/>
<polygon points="342.23,400.69 353.31,413.47 346.91,412.7 335.83,402.61" class="p"/>
<polygon points="445.42,485.17 456.5,497.66 450.09,496.03 439.01,483.3" class="p"/>
<polygon points="548.6,507.02 559.68,504.91 553.28,512.84 542.19,510.27" class="p"/>
<polygon points="651.78,443.52 662.86,443.05 656.46,452.35 645.38,454.96" class="p"/>
<polygon points="370.8,416.63 381.88,430.86 375.48,426.94 364.4,418.66" class="p"/>
<polygon points="473.98,497.86 485.06,501.73 478.66,506.31 467.58,499.17" class="p"/>
<polygon points="577.16,500.5 588.25,499.49 581.84,505.89 570.76,507.15" class="p"/>
<polygon points="296.18,381.31 307.26,386.85 300.86,395 289.78,386.24" class="p"/>
<polygon points="399.37,449.13 410.45,451.33 404.04,453.73 392.96,440.34" class="p"/>
<polygon points="502.55,508.22 513.63,512.52 507.22,513.41 496.14,509.75" class="p"/>
<polygon points="605.73,487.16 616.81,479.69 610.41,491.79 599.33,496.35" class="p"/>
<polygon points="324.75,395.47 335.83,402.61 329.43,409.47 318.34,399.31" class="p"/>
<polygon points="427.93,474.6 439.01,483.3 432.61,476.94 421.53,469.59" class="t"/>
<polygon points="531.11,510.77 542.19,510.27 535.79,516.63 524.71,517.57" class="p"/>
<polygon points="634.3,462.46 645.38,454.96 638.97,464.58 627.89,476.56" class="p"/>
<polygon points="353.31,413.47 364.4,418.66 357.99,419 346.91,412.7" class="p"/>
<polygon points="456.5,497.66 467.58,499.17 461.17,503.54 450.09,496.03" class="p"/>
<polygon points="559.68,504.91 570.76,507.15 564.36,510.22 553.28,512.84" class="p"/>
<polygon points="381.88,430.86 392.96,440.34 386.56,436.38 375.48,426.94" class="p"/>
<polygon points="485.06,501.73 496.14,509.75 489.74,509.25 478.66,506.31" class="p"/>
<polygon points="588.25,499.49 599.33,496.35 592.92,506.06 581.84,505.89" class="p"/>
<polygon points="307.26,386.85 318.34,399.31 311.94,407.73 300.86,395" class="p"/>
<polygon points="410.45,451.33 421.53,469.59 415.12,465.26 404.04,453.73" class="p"/>
<polygon points="513.63,512.52 524.71,517.57 518.31,519.99 507.22,513.41" class="p"/>
<polygon points="616.81,479.69 627.89,476.56 621.49,485.72 610.41,491.79" class="p"/>
<polygon points="335.83,402.61 346.91,412.7 340.51,415.06 329.43,409.47" class="p"/>
<polygon points="439.01,483.3 450.09,496.03 443.69,487.7 432.61,476.94" class="t"/>
<polygon points="542.19,510.27 553.28,512.84 546.87,516.65 535.79,516.63" class="p"/>
<polygon points="645.38,454.96 656.46,452.35 650.05,465.61 638.97,464.58" class="p"/>
<polygon points="364.4,418.66 375.48,426.94 369.07,427.97 357.99,419" class="p"/>
<polygon points="467.58,499.17 478.66,506.31 472.25,508.44 461.17,503.54" class="p"/>
<polygon points="570.76,507.15 581.84,505.89 575.44,510.21 564.36,510.22" class="p"/>
<polygon points="392.96,440.34 404.04,453.73 397.64,450.86 386.56,436.38" class="p"/>
<polygon points="496.14,509.75 507.22,513.41 500.82,513.45 489.74,509.25" class="p"/>
<polygon points="599.33,496.35 610.41,491.79 604,501.11 592.92,506.06" class="p"/>
<polygon points="318.34,399.31 329.43,409.47 323.02,417.84 311.94,407.73" class="p"/>
<polygon points="421.53,469.59 432.61,476.94 426.2,476.47 415.12,465.26" class="p"/>
<polygon points="524.71,517.57 535.79,516.63 529.39,520.47 518.31,519.99" class="p"/>
<polygon points="627.89,476.56 638.97,464.58 632.57,478.26 621.49,485.72" class="p"/>
<polygon points="346.91,412.7 357.99,419 351.59,426.55 340.51,415.06" class="p"/>
<polygon points="450.09,496.03 461.17,503.54 454.77,499.5 443.69,487.7" class="t"/>
<polygon points="553.28,512.84 564.36,510.22 557.95,516.77 546.87,516.65" class="p"/>
<polygon points="375.48,426.94 386.56,436.38 380.15,430.75 369.07,427.97" class="p"/>
<polygon points="478.66,506.31 489.74,509.25 483.34,511.97 472.25,508.44" class="p"/>
<polygon points="581.84,505.89 592.92,506.06 586.52,510.82 575.44,510.21" class="p"/>
<polygon points="404.04,453.73 415.12,465.26 408.72,460.55 397.64,450.86" class="p"/>
<polygon points="507.22,513.41 518.31,519.99 511.9,520.98 500.82,513.45" class="p"/>
<polygon points="610.41,491.79 621.49,485.72 615.08,501.31 604,501.11" class="p"/>
<polygon points="329.43,409.47 340.51,415.06 334.1,427.12 323.02,417.84" class="p"/>
<polygon points="432.61,476.94 443.69,487.7 437.29,482.65 426.2,476.47" class="p"/>
<polygon points="535.79,516.63 546.87,516.65 540.47,527.21 529.39,520.47" class="p"/>
<polygon points="638.97,464.58 650.05,465.61 643.65,470.26 632.57,478.26" class="p"/>
<polygon points="357.99,419 369.07,427.97 362.67,430.72 351.59,426.55" class="p"/>
<polygon points="461.17,503.54 472.25,508.44 465.85,507.26 454.77,499.5" class="p"/>
<polygon points="564.36,510.22 575.44,510.21 569.03,516.56 557.95,516.77" class="p"/>
<polygon points="386.56,436.38 397.64,450.86 391.23,443.46 380.15,430.75" class="p"/>
<polygon points="489.74,509.25 500.82,513.45 494.42,519.48 483.34,511.97" class="p"/>
<polygon points="592.92,506.06 604,501.11 597.6,510.91 586.52,510.82" class="p"/>
<polygon points="415.12,465.26 426.2,476.47 419.8,469 408.72,460.55" class="t"/>
<polygon points="518.31,519.99 529.39,520.47 522.98,525.45 511.9,520.98" class="p"/>
<polygon points="621.49,485.72 632.57,478.26 626.16,490.9 615.08,501.31" class="p"/>
<polygon points="340.51,415.06 351.59,426.55 345.18,433.75 334.1,427.12" class="p"/>
<polygon points="443.69,487.7 454.77,499.5 448.37,492.21 437.29,482.65" class="p"/>
<polygon points="546.87,516.65 557.95,516.77 551.55,523.5 540.47,527.21" class="p"/>
<polygon points="369.07,427.97 380.15,430.75 373.75,437.19 362.67,430.72" class="p"/>
<polygon points="472.25,508.44 483.34,511.97 476.93,514.68 465.85,507.26" class="p"/>
<polygon points="575.44,510.21 586.52,510.82 580.11,518.55 569.03,516.56" class="p"/>
<polygon points="397.64,450.86 408.72,460.55 402.32,452.41 391.23,443.46" class="t"/>
<polygon points="500.82,513.45 511.9,520.98 505.5,524.44 494.42,519.48" class="p"/>
<polygon points="604,501.11 615.08,501.31 608.68,513.08 597.6,510.91" class="p"/>
<polygon points="426.2,476.47 437.29,482.65 430.88,480.32 419.8,469" class="p"/>
<polygon points="529.39,520.47 540.47,527.21 534.06,535.85 522.98,525.45" class="p"/>
<polygon points="632.57,478.26 643.65,470.26 637.25,480.25 626.16,490.9" class="p"/>
<polygon points="351.59,426.55 362.67,430.72 356.26,442.94 345.18,433.75" class="p"/>
<polygon points="454.77,499.5 465.85,507.26 459.45,506.87 448.37,492.21" class="p"/>
<polygon points="557.95,516.77 569.03,516.56 562.63,526.35 551.55,523.5" class="p"/>
<polygon points="380.15,430.75 391.23,443.46 384.83,450.32 373.75,437.19" class="p"/>
<polygon points="483.34,511.97 494.42,519.48 488.01,516.33 476.93,514.68" class="p"/>
<polygon points="586.52,510.82 597.6,510.91 591.2,523.34 580.11,518.55" class="p"/>
<polygon points="408.72,460.55 419.8,469 413.4,464.51 402.32,452.41" class="t"/>
<polygon points="511.9,520.98 522.98,525.45 516.58,531.09 505.5,524.44" class="p"/>
<polygon points="615.08,501.31 626.16,490.9 619.76,502.74 608.68,513.08" class="p"/>
<polygon points="437.29,482.65 448.37,492.21 441.96,489.66 430.88,480.32" class="p"/>
<polygon points="540.47,527.21 551.55,523.5 545.14,531.12 534.06,535.85" class="p"/>
<polygon points="362.67,430.72 373.75,437.19 367.35,452.31 356.26,442.94" class="p"/>
<polygon points="465.85,507.26 476.93,514.68 470.53,515.3 459.45,506.87" class="p"/>
<polygon points="569.03,516.56 580.11,518.55 573.71,526.91 562.63,526.35" class="p"/>
<polygon points="391.23,443.46 402.32,452.41 395.91,461.74 384.83,450.32" class="p"/>
<polygon points="494.42,519.48 505.5,524.44 499.09,524.37 488.01,516.33" class="p"/>
<polygon points="597.6,510.91 608.68,513.08 602.28,521.44 591.2,523.34" class="p"/>
<polygon points="419.8,469 430.88,480.32 424.48,473.44 413.4,464.51" class="p"/>
<polygon points="522.98,525.45 534.06,535.85 527.66,533.82 516.58,531.09" class="p"/>
<polygon points="626.16,490.9 637.25,480.25 630.84,488.13 619.76,502.74" class="p"/>
<polygon points="448.37,492.21 459.45,506.87 453.04,502.89 441.96,489.66" class="p"/>
<polygon points="551.55,523.5 562.63,526.35 556.23,534.58 545.14,531.12" class="p"/>
<polygon points="373.75,437.19 384.83,450.32 378.43,459.79 367.35,452.31" class="p"/>
<polygon points="476.93,514.68 488.01,516.33 481.61,517.62 470.53,515.3" class="p"/>
<polygon points="580.11,518.55 591.2,523.34 584.79,526.22 573.71,526.91" class="p"/>
<polygon points="402.32,452.41 413.4,464.51 406.99,471.04 395.91,461.74" class="p"/>
<polygon points="505.5,524.44 516.58,531.09 510.17,533.91 499.09,524.37" class="p"/>
<polygon points="608.68,513.08 619.76,502.74 613.36,514.58 602.28,521.44" class="p"/>
<polygon points="430.88,480.32 441.96,489.66 435.56,487.63 424.48,473.44" class="p"/>
<polygon points="534.06,535.85 545.14,531.12 538.74,539.52 527.66,533.82" class="p"/>
<polygon points="459.45,506.87 470.53,515.3 464.12,509.81 453.04,502.89" class="t"/>
<polygon points="562.63,526.35 573.71,526.91 567.31,532.84 556.23,534.58" class="p"/>
<polygon points="384.83,450.32 395.91,461.74 389.51,472.53 378.43,459.79" class="p"/>
<polygon points="488.01,516.33 499.09,524.37 492.69,525.19 481.61,517.62" class="p"/>
<polygon points="591.2,523.34 602.28,521.44 595.87,526.78 584.79,526.22" class="p"/>
<polygon points="413.4,464.51 424.48,473.44 418.07,481.19 406.99,471.04" class="p"/>
<polygon points="516.58,531.09 527.66,533.82 521.26,530.17 510.17,533.91" class="t"/>
<polygon points="619.76,502.74 630.84,488.13 624.44,502.12 613.36,514.58" class="p"/>
<polygon points="441.96,489.66 453.04,502.89 446.64,496.97 435.56,487.63" class="p"/>
<polygon points="545.14,531.12 556.23,534.58 549.82,536.93 538.74,539.52" class="p"/>
<polygon points="470.53,515.3 481.61,517.62 475.2,521.7 464.12,509.81" class="p"/>
<polygon points="573.71,526.91 584.79,526.22 578.39,534.29 567.31,532.84" class="p"/>
<polygon points="395.91,461.74 406.99,471.04 400.59,480.03 389.51,472.53" class="p"/>
<polygon points="499.09,524.37 510.17,533.91 503.77,528.93 492.69,525.19" class="p"/>
<polygon points="602.28,521.44 613.36,514.58 606.95,520.91 595.87,526.78" class="p"/>
<polygon points="424.48,473.44 435.56,487.63 429.15,486.6 418.07,481.19" class="p"/>
<polygon points="527.66,533.82 538.74,539.52 532.34,540.33 521.26,530.17" class="p"/>
<polygon points="453.04,502.89 464.12,509.81 457.72,504.4 446.64,496.97" class="t"/>
<polygon points="556.23,534.58 567.31,532.84 560.9,544.16 549.82,536.93" class="p"/>
<polygon points="481.61,517.62 492.69,525.19 486.29,525.61 475.2,521.7" class="p"/>
<polygon points="584.79,526.22 595.87,526.78 589.47,540.49 578.39,534.29" class="p"/>
<polygon points="406.99,471.04 418.07,481.19 411.67,486.12 400.59,480.03" class="p"/>
<polygon points="510.17,533.91 521.26,530.17 514.85,536.17 503.77,528.93" class="p"/>
<polygon points="613.36,514.58 624.44,502.12 618.03,513.21 606.95,520.91" class="p"/>
<polygon points="435.56,487.63 446.64,496.97 440.24,500.71 429.15,486.6" class="p"/>
<polygon points="538.74,539.52 549.82,536.93 543.42,544.49 532.34,540.33" class="p"/>
<polygon points="464.12,509.81 475.2,521.7 468.8,522.85 457.72,504.4" class="p"/>
<polygon points="567.31,532.84 578.39,534.29 571.98,543.39 560.9,544.16" class="p"/>
<polygon points="492.69,525.19 503.77,528.93 497.37,535.63 486.29,525.61" class="p"/>
<polygon points="595.87,526.78 606.95,520.91 600.55,531.54 589.47,540.49" class="p"/>
<polygon points="418.07,481.19 429.15,486.6 422.75,494.52 411.67,486.12" class="p"/>
<polygon points="521.26,530.17 532.34,540.33 525.93,542.52 514.85,536.17" class="p"/>
<polygon points="446.64,496.97 457.72,504.4 451.32,506.87 440.24,500.71" class="p"/>
<polygon points="549.82,536.93 560.9,544.16 554.5,550.44 543.42,544.49" class="p"/>
<polygon points="475.2,521.7 486.29,525.61 479.88,525.42 468.8,522.85" class="p"/>
<polygon points="578.39,534.29 589.47,540.49 583.06,541.23 571.98,543.39" class="p"/>
<polygon points="503.77,528.93 514.85,536.17 508.45,540.37 497.37,535.63" class="p"/>
<polygon points="606.95,520.91 618.03,513.21 611.63,520.87 600.55,531.54" class="p"/>
<polygon points="429.15,486.6 440.24,500.71 433.83,502.46 422.75,494.52" class="p"/>
<polygon points="532.34,540.33 543.42,544.49 537.01,548.25 525.93,542.52" class="p"/>
<polygon points="457.72,504.4 468.8,522.85 462.4,520.5 451.32,506.87" class="p"/>
<polygon points="560.9,544.16 571.98,543.39 565.58,546.94 554.5,550.44" class="p"/>
<polygon points="486.29,525.61 497.37,535.63 490.96,530.54 479.88,525.42" class="p"/>
<polygon points="589.47,540.49 600.55,531.54 594.15,537.4 583.06,541.23" class="t"/>
<polygon points="514.85,536.17 525.93,542.52 519.53,541.97 508.45,540.37" class="p"/>
<polygon points="440.24,500.71 451.32,506.87 444.91,505.5 433.83,502.46" class="p"/>
<polygon points="543.42,544.49 554.5,550.44 548.09,557.27 537.01,548.25" class="p"/>
<polygon points="468.8,522.85 479.88,525.42 473.48,526.13 462.4,520.5" class="p"/>
<polygon points="571.98,543.39 583.06,541.23 576.66,547.64 565.58,546.94" class="p"/>
<polygon points="497.37,535.63 508.45,540.37 502.04,539.01 490.96,530.54" class="p"/>
<polygon points="600.55,531.54 611.63,520.87 605.23,528.11 594.15,537.4" class="p"/>
<polygon points="525.93,542.52 537.01,548.25 530.61,552.64 519.53,541.97" class="p"/>
<polygon points="451.32,506.87 462.4,520.5 455.99,515.52 444.91,505.5" class="p"/>
<polygon points="554.5,550.44 565.58,546.94 559.18,558.11 548.09,557.27" class="p"/>
<polygon points="479.88,525.42 490.96,530.54 484.56,531.86 473.48,526.13" class="p"/>
<polygon points="583.06,541.23 594.15,537.4 587.74,540.98 576.66,547.64" class="p"/>
<polygon points="508.45,540.37 519.53,541.97 513.12,544.46 502.04,539.01" class="p"/>
<polygon points="537.01,548.25 548.09,557.27 541.69,556.95 530.61,552.64" class="p"/>
<polygon points="462.4,520.5 473.48,526.13 467.07,522.68 455.99,515.52" class="t"/>
<polygon points="565.58,546.94 576.66,547.64 570.26,561.72 559.18,558.11" class="p"/>
<polygon points="490.96,530.54 502.04,539.01 495.64,539.61 484.56,531.86" class="p"/>
<polygon points="594.15,537.4 605.23,528.11 598.82,533.76 587.74,540.98" class="t"/>
<polygon points="519.53,541.97 530.61,552.64 524.21,550.02 513.12,544.46" class="p"/>
<polygon points="548.09,557.27 559.18,558.11 552.77,565.19 541.69,556.95" class="p"/>
<polygon points="473.48,526.13 484.56,531.86 478.15,525.14 467.07,522.68" class="t"/>
<polygon points="576.66,547.64 587.74,540.98 581.34,552.68 570.26,561.72" class="p"/>
<polygon points="502.04,539.01 513.12,544.46 506.72,537.7 495.64,539.61" class="t"/>
<polygon points="530.61,552.64 541.69,556.95 535.29,560.93 524.21,550.02" class="p"/>
<polygon points="559.18,558.11 570.26,561.72 563.85,568.43 552.77,565.19" class="p"/>
<polygon points="484.56,531.86 495.64,539.61 489.24,525.34 478.15,525.14" class="t"/>
<polygon points="587.74,540.98 598.82,533.76 592.42,543.96 581.34,552.68" class="p"/>
<polygon points="513.12,544.46 524.21,550.02 517.8,542.74 506.72,537.7" class="t"/>
<polygon points="541.69,556.95 552.77,565.19 546.37,566.28 535.29,560.93" class="p"/>
<polygon points="570.26,561.72 581.34,552.68 574.93,560.63 563.85,568.43" class="p"/>
<polygon points="495.64,539.61 506.72,537.7 500.32,526.1 489.24,525.34" class="t"/>
<polygon points="524.21,550.02 535.29,560.93 528.88,551.25 517.8,542.74" class="t"/>
<polygon points="552.77,565.19 563.85,568.43 557.45,576.09 546.37,566.28" class="p"/>
<polygon points="581.34,552.68 592.42,543.96 586.01,550.49 574.93,560.63" class="p"/>
<polygon points="506.72,537.7 517.8,542.74 511.4,522.67 500.32,526.1" class="t"/>
<polygon points="535.29,560.93 546.37,566.28 539.96,558.1 528.88,551.25" class="t"/>
<polygon points="563.85,568.43 574.93,560.63 568.53,569.4 557.45,576.09" class="p"/>
<polygon points="517.8,542.74 528.88,551.25 522.48,535.98 511.4,522.67" class="t"/>
<polygon points="546.37,566.28 557.45,576.09 551.04,573.82 539.96,558.1" class="p"/>
<polygon points="574.93,560.63 586.01,550.49 579.61,558.97 568.53,569.4" class="p"/>
<polygon points="528.88,551.25 539.96,558.1 533.56,554.78 522.48,535.98" class="t"/>
<polygon points="557.45,576.09 568.53,569.4 562.13,576.29 551.04,573.82" class="p"/>
<polygon points="539.96,558.1 551.04,573.82 544.64,520 533.56,554.78" class="t"/>
<polygon points="568.53,569.4 579.61,558.97 573.21,564.32 562.13,576.29" class="t"/>
<polygon points="551.04,573.82 562.13,576.29 555.72,574.23 544.64,520" class="t"/>
<polygon points="562.13,576.29 573.21,564.32 566.8,577.72 555.72,574.23" class="p"/>
<line x1="122.6" y1="556.7" x2="575.6" y2="650.8" class="bb"/>
<line x1="122.6" y1="556.7" x2="575.6" y2="650.8" class="bd"/>
<line x1="575.6" y1="650.8" x2="837.4" y2="488.3" class="bb"/>
<line x1="575.6" y1="650.8" x2="837.4" y2="488.3" class="bd"/>
<line x1="122.6" y1="556.7" x2="122.6" y2="231.2" class="b"/>
<line x1="575.6" y1="650.8" x2="575.6" y2="325.3" class="b"/>
<line x1="122.6" y1="231.2" x2="575.6" y2="325.3" class="b"/>
<line x1="575.6" y1="325.3" x2="837.4" y2="162.8" class="b"/>
<line x1="122.6" y1="556.7" x2="126.36" y2="554.36" class="b"/>
<line x1="837.4" y1="488.3" x2="830.89" y2="486.95" class="b"/>
<line x1="179.22" y1="568.46" x2="182.99" y2="566.13" class="b"/>
<line x1="804.67" y1="508.61" x2="798.16" y2="507.26" class="b"/>
<line x1="235.85" y1="580.22" x2="239.61" y2="577.89" class="b"/>
<line x1="771.95" y1="528.92" x2="765.44" y2="527.57" class="b"/>
<line x1="292.47" y1="591.99" x2="296.24" y2="589.65" class="b"/>
<line x1="739.22" y1="549.24" x2="732.71" y2="547.88" class="b"/>
<line x1="349.1" y1="603.75" x2="352.86" y2="601.41" class="b"/>
<line x1="706.5" y1="569.55" x2="699.99" y2="568.2" class="b"/>
<line x1="405.72" y1="615.51" x2="409.49" y2="613.18" class="b"/>
<line x1="673.77" y1="589.86" x2="667.26" y2="588.51" class="b"/>
<line x1="462.35" y1="627.27" x2="466.11" y2="624.94" class="b"/>
<line x1="641.05" y1="610.17" x2="634.54" y2="608.82" class="b"/>
<line x1="518.97" y1="639.04" x2="522.74" y2="636.7" class="b"/>
<line x1="608.32" y1="630.49" x2="601.81" y2="629.13" class="b"/>
<line x1="575.6" y1="650.8" x2="579.36" y2="648.46" class="b"/>
<line x1="575.6" y1="650.8" x2="569.09" y2="649.45" class="b"/>
<line x1="122.6" y1="556.7" x2="130.1" y2="556.7" class="b"/>
<line x1="122.6" y1="510.2" x2="130.1" y2="510.2" class="b"/>
<line x1="122.6" y1="463.7" x2="130.1" y2="463.7" class="b"/>
<line x1="122.6" y1="417.2" x2="130.1" y2="417.2" class="b"/>
<line x1="122.6" y1="370.7" x2="130.1" y2="370.7" class="b"/>
<line x1="122.6" y1="324.2" x2="130.1" y2="324.2" class="b"/>
<line x1="122.6" y1="277.7" x2="130.1" y2="277.7" class="b"/>
<line x1="122.6" y1="231.2" x2="130.1" y2="231.2" class="b"/>
<text x="308.2" y="25.8" textLength="343.5" lengthAdjust="spacingAndGlyphs">[tortuga] Western Digital WD800JB UDMA5 80GB 7200RPM IDE</text>
<text x="108.6" y="559.9" text-anchor="end">12.5</text>
<text x="108.6" y="513.4" text-anchor="end">13</text>
<text x="108.6" y="466.9" text-anchor="end">13.5</text>
<text x="108.6" y="420.4" text-anchor="end">14</text>
<text x="108.6" y="373.9" text-anchor="end">14.5</text>
<text x="108.6" y="327.4" text-anchor="end">15</text>
<text x="108.6" y="280.9" text-anchor="end">15.5</text>
<text x="108.6" y="234.4" text-anchor="end">16</text>
<text x="28.3" y="395.9" textLength="90.8" lengthAdjust="spacingAndGlyphs">Seek Speed (ms)</text>
<text x="119.3" y="563" text-anchor="middle">0</text>
<text x="847.1" y="492.3">0</text>
<text x="175.92" y="574.76" text-anchor="middle">10000</text>
<text x="814.38" y="512.61">10000</text>
<text x="232.55" y="586.52" text-anchor="middle">20000</text>
<text x="781.65" y="532.92">20000</text>
<text x="289.17" y="598.29" text-anchor="middle">30000</text>
<text x="748.92" y="553.24">30000</text>
<text x="345.8" y="610.05" text-anchor="middle">40000</text>
<text x="716.2" y="573.55">40000</text>
<text x="402.42" y="621.81" text-anchor="middle">50000</text>
<text x="683.48" y="593.86">50000</text>
<text x="459.05" y="633.57" text-anchor="middle">60000</text>
<text x="650.75" y="614.17">60000</text>
<text x="515.67" y="645.34" text-anchor="middle">70000</text>
<text x="618.02" y="634.49">70000</text>
<text x="572.3" y="657.1" text-anchor="middle">80000</text>
<text x="585.3" y="654.8">80000</text>
<text x="256.3" y="630.8" textLength="102" lengthAdjust="spacingAndGlyphs">Ending Offset (MB)</text>
<text x="724.5" y="585.2" textLength="106.9" lengthAdjust="spacingAndGlyphs">Starting Offset (MB)</text>
</svg>
</body></html>
